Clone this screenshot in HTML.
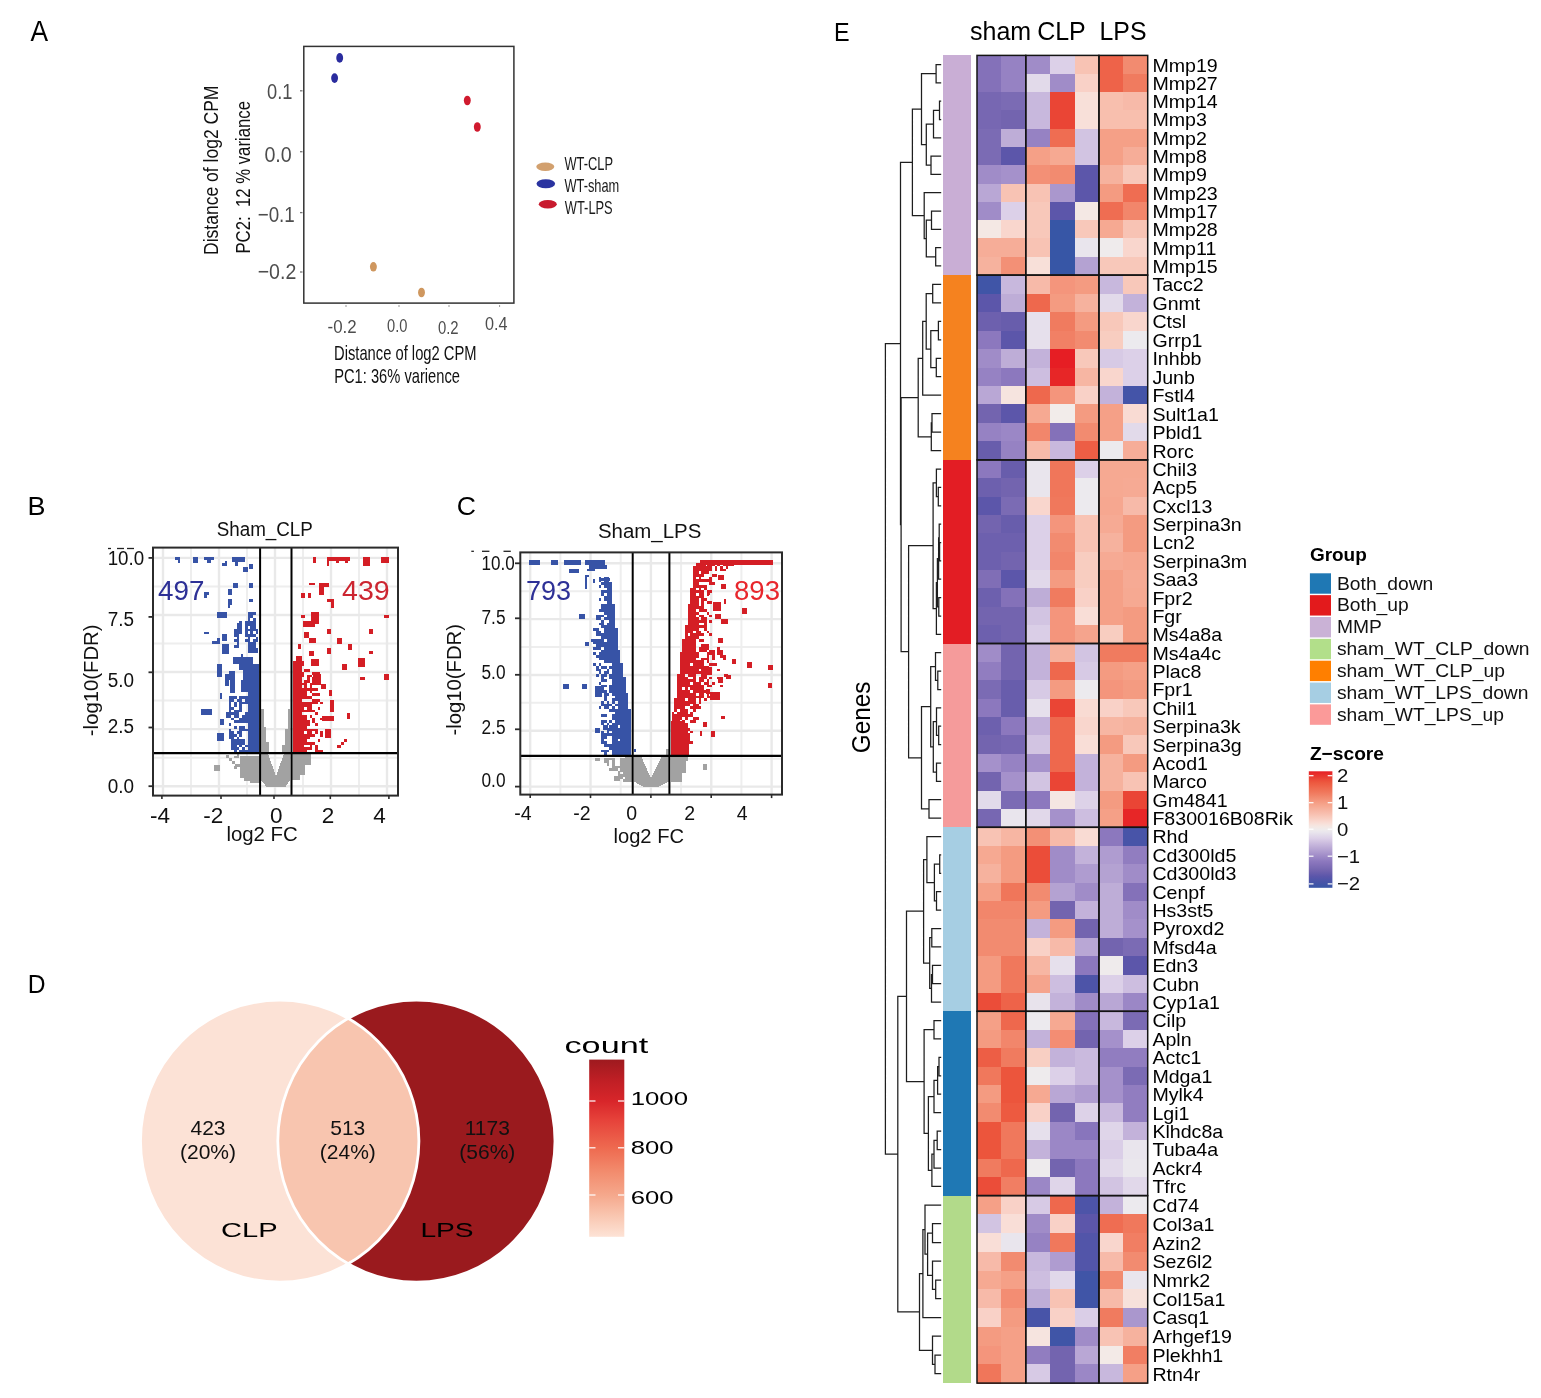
<!DOCTYPE html>
<html><head><meta charset="utf-8"><title>Figure</title>
<style>html,body{margin:0;padding:0;background:#fff;} svg{display:block;}</style>
</head><body>
<svg width="1541" height="1398" viewBox="0 0 1541 1398" font-family="'Liberation Sans', Arial, Helvetica, sans-serif"><text x="30.5" y="40.9" font-size="30.0" text-anchor="start" fill="#000" textLength="17.6" lengthAdjust="spacingAndGlyphs" >A</text>
<text x="27.6" y="515.4" font-size="25.2" text-anchor="start" fill="#000" textLength="18.0" lengthAdjust="spacingAndGlyphs" >B</text>
<text x="456.8" y="515.3" font-size="25.2" text-anchor="start" fill="#000" textLength="19.2" lengthAdjust="spacingAndGlyphs" >C</text>
<text x="27.7" y="992.7" font-size="26.0" text-anchor="start" fill="#000" textLength="17.8" lengthAdjust="spacingAndGlyphs" >D</text>
<text x="833.9" y="41.1" font-size="25.2" text-anchor="start" fill="#000" textLength="15.6" lengthAdjust="spacingAndGlyphs" >E</text>
<rect x="303.8" y="46.4" width="210.1" height="256.7" fill="none" stroke="#333" stroke-width="1.5"/>
<text x="267.1" y="99.1" font-size="22" text-anchor="start" fill="#4d4d4d" textLength="25.4" lengthAdjust="spacingAndGlyphs" >0.1</text>
<line x1="300.00" y1="90.80" x2="302.50" y2="90.80" stroke="#777" stroke-width="1.3" />
<text x="264.4" y="161.9" font-size="22" text-anchor="start" fill="#4d4d4d" textLength="27.4" lengthAdjust="spacingAndGlyphs" >0.0</text>
<line x1="300.00" y1="151.70" x2="302.50" y2="151.70" stroke="#777" stroke-width="1.3" />
<text x="257.7" y="221.6" font-size="22" text-anchor="start" fill="#4d4d4d" textLength="37.1" lengthAdjust="spacingAndGlyphs" >−0.1</text>
<line x1="300.00" y1="212.60" x2="302.50" y2="212.60" stroke="#777" stroke-width="1.3" />
<text x="257.7" y="278.8" font-size="22" text-anchor="start" fill="#4d4d4d" textLength="38.6" lengthAdjust="spacingAndGlyphs" >−0.2</text>
<line x1="300.00" y1="272.00" x2="302.50" y2="272.00" stroke="#777" stroke-width="1.3" />
<text x="327.6" y="333.0" font-size="18.5" text-anchor="start" fill="#4d4d4d" textLength="29.1" lengthAdjust="spacingAndGlyphs" >-0.2</text>
<text x="387.1" y="332.2" font-size="18.5" text-anchor="start" fill="#4d4d4d" textLength="20.4" lengthAdjust="spacingAndGlyphs" >0.0</text>
<text x="437.9" y="333.5" font-size="18.5" text-anchor="start" fill="#4d4d4d" textLength="20.7" lengthAdjust="spacingAndGlyphs" >0.2</text>
<text x="485.0" y="330.0" font-size="18.5" text-anchor="start" fill="#4d4d4d" textLength="22.5" lengthAdjust="spacingAndGlyphs" >0.4</text>
<line x1="346.00" y1="305.00" x2="346.00" y2="307.00" stroke="#999" stroke-width="1.0" />
<line x1="399.00" y1="305.00" x2="399.00" y2="307.00" stroke="#999" stroke-width="1.0" />
<line x1="449.00" y1="305.00" x2="449.00" y2="307.00" stroke="#999" stroke-width="1.0" />
<line x1="499.60" y1="305.00" x2="499.60" y2="307.00" stroke="#999" stroke-width="1.0" />
<text transform="translate(217.7,170.3) rotate(-90)" x="0" y="0" font-size="20" text-anchor="middle" fill="#111" textLength="169.4" lengthAdjust="spacingAndGlyphs">Distance of log2 CPM</text>
<text transform="translate(250.2,177.3) rotate(-90)" x="0" y="0" font-size="20" text-anchor="middle" fill="#111" textLength="152.6" lengthAdjust="spacingAndGlyphs">PC2:  12 % variance</text>
<text x="334.0" y="359.5" font-size="20.4" text-anchor="start" fill="#111" textLength="142.6" lengthAdjust="spacingAndGlyphs" >Distance of log2 CPM</text>
<text x="334.2" y="383.3" font-size="20.4" text-anchor="start" fill="#111" textLength="125.7" lengthAdjust="spacingAndGlyphs" >PC1: 36% varience</text>
<ellipse cx="339.7" cy="57.9" rx="3.45" ry="4.8" fill="#2a2c9e"/>
<ellipse cx="334.6" cy="78.1" rx="3.45" ry="4.8" fill="#2a2c9e"/>
<ellipse cx="467.3" cy="100.5" rx="3.45" ry="4.8" fill="#d01a2e"/>
<ellipse cx="477.3" cy="127.0" rx="3.45" ry="4.8" fill="#d01a2e"/>
<ellipse cx="373.4" cy="266.8" rx="3.45" ry="4.8" fill="#cf975f"/>
<ellipse cx="421.5" cy="292.5" rx="3.45" ry="4.8" fill="#cf975f"/>
<ellipse cx="545.3" cy="166.7" rx="9.0" ry="4.2" fill="#d2a06e"/>
<ellipse cx="545.8" cy="183.8" rx="9.3" ry="4.5" fill="#2a33a0"/>
<ellipse cx="547.8" cy="204.3" rx="9.0" ry="4.2" fill="#c81a2e"/>
<text x="564.4" y="169.6" font-size="18.5" text-anchor="start" fill="#1a1a1a" textLength="48.6" lengthAdjust="spacingAndGlyphs" >WT-CLP</text>
<text x="564.4" y="191.8" font-size="18.5" text-anchor="start" fill="#1a1a1a" textLength="54.9" lengthAdjust="spacingAndGlyphs" >WT-sham</text>
<text x="564.8" y="214.4" font-size="18.5" text-anchor="start" fill="#1a1a1a" textLength="47.9" lengthAdjust="spacingAndGlyphs" >WT-LPS</text>
<line x1="191.00" y1="547.60" x2="191.00" y2="795.60" stroke="#eeeeee" stroke-width="2.0" />
<line x1="247.00" y1="547.60" x2="247.00" y2="795.60" stroke="#eeeeee" stroke-width="2.0" />
<line x1="303.00" y1="547.60" x2="303.00" y2="795.60" stroke="#eeeeee" stroke-width="2.0" />
<line x1="359.00" y1="547.60" x2="359.00" y2="795.60" stroke="#eeeeee" stroke-width="2.0" />
<line x1="153.00" y1="757.66" x2="398.00" y2="757.66" stroke="#eeeeee" stroke-width="2.0" />
<line x1="153.00" y1="700.59" x2="398.00" y2="700.59" stroke="#eeeeee" stroke-width="2.0" />
<line x1="153.00" y1="643.51" x2="398.00" y2="643.51" stroke="#eeeeee" stroke-width="2.0" />
<line x1="153.00" y1="586.44" x2="398.00" y2="586.44" stroke="#eeeeee" stroke-width="2.0" />
<line x1="163.00" y1="547.60" x2="163.00" y2="795.60" stroke="#e9e9e9" stroke-width="2.4" />
<line x1="219.00" y1="547.60" x2="219.00" y2="795.60" stroke="#e9e9e9" stroke-width="2.4" />
<line x1="275.00" y1="547.60" x2="275.00" y2="795.60" stroke="#e9e9e9" stroke-width="2.4" />
<line x1="331.00" y1="547.60" x2="331.00" y2="795.60" stroke="#e9e9e9" stroke-width="2.4" />
<line x1="387.00" y1="547.60" x2="387.00" y2="795.60" stroke="#e9e9e9" stroke-width="2.4" />
<line x1="153.00" y1="786.20" x2="398.00" y2="786.20" stroke="#e9e9e9" stroke-width="2.4" />
<line x1="153.00" y1="729.12" x2="398.00" y2="729.12" stroke="#e9e9e9" stroke-width="2.4" />
<line x1="153.00" y1="672.05" x2="398.00" y2="672.05" stroke="#e9e9e9" stroke-width="2.4" />
<line x1="153.00" y1="614.98" x2="398.00" y2="614.98" stroke="#e9e9e9" stroke-width="2.4" />
<line x1="153.00" y1="557.90" x2="398.00" y2="557.90" stroke="#e9e9e9" stroke-width="2.4" />
<path d="M240.0,756.0H259.7V770.0H240.0ZM240.0,770.0H259.7V778.0H240.0ZM250.0,778.0H259.7V783.0H250.0ZM244.0,778.0H250.0V781.0H244.0ZM214.2,765.0H219.7V770.6H214.2ZM226.0,755.0H229.0V758.0H226.0ZM229.0,758.0H232.0V761.0H229.0ZM232.0,761.0H235.0V764.0H232.0ZM235.0,764.0H240.0V767.0H235.0ZM261.2,709.4H263.7V752.0H261.2ZM261.2,726.5H266.2V752.0H261.2ZM263.7,742.3H268.7V752.0H263.7ZM287.6,709.4H290.2V752.0H287.6ZM285.1,728.7H290.2V752.0H285.1ZM282.3,745.1H290.2V752.0H282.3ZM292.2,753.8H310.8V765.0H292.2ZM292.2,765.0H305.0V775.0H292.2ZM292.2,775.0H300.0V780.0H292.2ZM234.0,755.5H236.7V758.2H234.0ZM234.0,766.3H236.7V769.0H234.0ZM236.7,752.8H239.4V755.5H236.7ZM236.7,755.5H239.4V758.2H236.7ZM236.7,763.6H239.4V766.3H236.7Z" fill="#a2a2a2" shape-rendering="crispEdges"/>
<path d="M260.6,753.8L268.0,753.8L276.0,776.0L284.0,753.8L290.2,753.8L290.2,780.0L285.0,787.3L267.0,787.3L260.6,780.0Z" fill="#a2a2a2" shape-rendering="crispEdges"/>
<path d="M174.9,556.6H180.0V559.6H174.9ZM177.5,559.6H180.0V562.6H177.5ZM193.3,556.6H198.1V562.6H193.3ZM204.1,556.6H213.9V559.6H204.1ZM207.1,559.6H211.4V562.6H207.1ZM224.7,560.5H226.8V565.6H224.7ZM222.1,563.0H226.8V565.6H222.1ZM232.4,556.6H244.8V562.2H232.4ZM235.0,562.2H237.6V565.6H235.0ZM243.1,566.5H247.9V571.6H243.1ZM248.7,563.5H253.0V568.6H248.7ZM232.8,582.8H237.6V587.9H232.8ZM227.7,588.8H232.0V594.8H227.7ZM248.7,583.2H253.0V587.9H248.7ZM204.1,591.8H209.2V594.8H204.1ZM204.1,594.8H206.7V597.8H204.1ZM227.7,598.6H231.5V605.1H227.7ZM227.7,605.1H229.8V607.7H227.7ZM248.7,598.6H253.0V601.7H248.7ZM216.7,612.0H227.0V617.7H216.7ZM204.2,632.0H208.7V633.7H204.2ZM212.2,641.0H219.6V644.0H212.2ZM216.5,638.3H219.6V641.0H216.5ZM221.9,634.3H227.0V640.6H221.9ZM221.9,644.0H229.3V653.8H221.9ZM240.8,653.8H243.0V656.6H240.8ZM232.7,656.6H253.3V663.5H232.7ZM238.5,663.5H259.2V669.8H238.5ZM243.0,669.8H259.2V680.0H243.0ZM240.8,680.0H259.2V691.5H240.8ZM247.6,691.5H259.2V752.2H247.6ZM216.7,664.0H221.9V676.6H216.7ZM224.7,674.3H229.3V685.8H224.7ZM229.3,670.9H235.0V680.0H229.3ZM229.9,680.0H234.5V692.6H229.9ZM219.6,693.2H221.9V698.9H219.6ZM201.3,709.2H211.6V715.0H201.3ZM219.6,719.0H224.2V725.2H219.6ZM216.7,732.7H224.2V740.7H216.7ZM225.9,712.3H228.6V715.0H225.9ZM225.9,715.0H228.6V717.7H225.9ZM228.6,696.1H231.3V698.8H228.6ZM228.6,698.8H231.3V701.5H228.6ZM228.6,701.5H231.3V704.2H228.6ZM228.6,704.2H231.3V706.9H228.6ZM228.6,706.9H231.3V709.6H228.6ZM228.6,709.6H231.3V712.3H228.6ZM228.6,712.3H231.3V715.0H228.6ZM228.6,715.0H231.3V717.7H228.6ZM228.6,723.1H231.3V725.8H228.6ZM228.6,728.5H231.3V731.2H228.6ZM228.6,731.2H231.3V733.9H228.6ZM228.6,733.9H231.3V736.6H228.6ZM228.6,736.6H231.3V739.3H228.6ZM231.3,696.1H234.0V698.8H231.3ZM231.3,698.8H234.0V701.5H231.3ZM231.3,706.9H234.0V709.6H231.3ZM231.3,712.3H234.0V715.0H231.3ZM231.3,717.7H234.0V720.4H231.3ZM231.3,731.2H234.0V733.9H231.3ZM231.3,733.9H234.0V736.6H231.3ZM231.3,736.6H234.0V739.3H231.3ZM231.3,739.3H234.0V742.0H231.3ZM231.3,742.0H234.0V744.7H231.3ZM231.3,744.7H234.0V747.4H231.3ZM231.3,747.4H234.0V750.1H231.3ZM234.0,696.1H236.7V698.8H234.0ZM234.0,701.5H236.7V704.2H234.0ZM234.0,704.2H236.7V706.9H234.0ZM234.0,709.6H236.7V712.3H234.0ZM234.0,712.3H236.7V715.0H234.0ZM234.0,715.0H236.7V717.7H234.0ZM234.0,720.4H236.7V723.1H234.0ZM234.0,725.8H236.7V728.5H234.0ZM234.0,733.9H236.7V736.6H234.0ZM234.0,739.3H236.7V742.0H234.0ZM234.0,742.0H236.7V744.7H234.0ZM234.0,744.7H236.7V747.4H234.0ZM234.0,747.4H236.7V750.1H234.0ZM234.0,750.1H236.7V752.8H234.0ZM236.7,698.8H239.4V701.5H236.7ZM236.7,709.6H239.4V712.3H236.7ZM236.7,712.3H239.4V715.0H236.7ZM236.7,715.0H239.4V717.7H236.7ZM236.7,720.4H239.4V723.1H236.7ZM236.7,731.2H239.4V733.9H236.7ZM236.7,736.6H239.4V739.3H236.7ZM236.7,739.3H239.4V742.0H236.7ZM236.7,742.0H239.4V744.7H236.7ZM236.7,747.4H239.4V750.1H236.7ZM239.4,696.1H242.1V698.8H239.4ZM239.4,698.8H242.1V701.5H239.4ZM239.4,701.5H242.1V704.2H239.4ZM239.4,704.2H242.1V706.9H239.4ZM239.4,706.9H242.1V709.6H239.4ZM239.4,709.6H242.1V712.3H239.4ZM239.4,717.7H242.1V720.4H239.4ZM239.4,720.4H242.1V723.1H239.4ZM239.4,725.8H242.1V728.5H239.4ZM239.4,728.5H242.1V731.2H239.4ZM239.4,731.2H242.1V733.9H239.4ZM239.4,733.9H242.1V736.6H239.4ZM239.4,739.3H242.1V742.0H239.4ZM239.4,742.0H242.1V744.7H239.4ZM239.4,744.7H242.1V747.4H239.4ZM239.4,750.1H242.1V752.8H239.4ZM242.1,696.1H244.8V698.8H242.1ZM242.1,701.5H244.8V704.2H242.1ZM242.1,715.0H244.8V717.7H242.1ZM242.1,717.7H244.8V720.4H242.1ZM242.1,720.4H244.8V723.1H242.1ZM242.1,725.8H244.8V728.5H242.1ZM242.1,728.5H244.8V731.2H242.1ZM242.1,739.3H244.8V742.0H242.1ZM242.1,742.0H244.8V744.7H242.1ZM242.1,747.4H244.8V750.1H242.1ZM242.1,750.1H244.8V752.8H242.1ZM244.8,696.1H247.5V698.8H244.8ZM244.8,698.8H247.5V701.5H244.8ZM244.8,701.5H247.5V704.2H244.8ZM244.8,712.3H247.5V715.0H244.8ZM244.8,715.0H247.5V717.7H244.8ZM244.8,717.7H247.5V720.4H244.8ZM244.8,720.4H247.5V723.1H244.8ZM244.8,728.5H247.5V731.2H244.8ZM244.8,744.7H247.5V747.4H244.8ZM244.8,750.1H247.5V752.8H244.8ZM244.8,620.5H247.5V623.2H244.8ZM244.8,623.2H247.5V625.9H244.8ZM244.8,625.9H247.5V628.6H244.8ZM244.8,628.6H247.5V631.3H244.8ZM244.8,631.3H247.5V634.0H244.8ZM244.8,634.0H247.5V636.7H244.8ZM244.8,639.4H247.5V642.1H244.8ZM247.5,612.4H250.2V615.1H247.5ZM247.5,615.1H250.2V617.8H247.5ZM247.5,617.8H250.2V620.5H247.5ZM247.5,620.5H250.2V623.2H247.5ZM247.5,623.2H250.2V625.9H247.5ZM247.5,628.6H250.2V631.3H247.5ZM247.5,634.0H250.2V636.7H247.5ZM247.5,636.7H250.2V639.4H247.5ZM247.5,639.4H250.2V642.1H247.5ZM247.5,642.1H250.2V644.8H247.5ZM247.5,644.8H250.2V647.5H247.5ZM247.5,647.5H250.2V650.2H247.5ZM247.5,650.2H250.2V652.9H247.5ZM250.2,612.4H252.9V615.1H250.2ZM250.2,615.1H252.9V617.8H250.2ZM250.2,620.5H252.9V623.2H250.2ZM250.2,623.2H252.9V625.9H250.2ZM250.2,625.9H252.9V628.6H250.2ZM250.2,628.6H252.9V631.3H250.2ZM250.2,631.3H252.9V634.0H250.2ZM250.2,634.0H252.9V636.7H250.2ZM250.2,642.1H252.9V644.8H250.2ZM250.2,644.8H252.9V647.5H250.2ZM250.2,647.5H252.9V650.2H250.2ZM250.2,650.2H252.9V652.9H250.2ZM252.9,612.4H255.6V615.1H252.9ZM252.9,617.8H255.6V620.5H252.9ZM252.9,620.5H255.6V623.2H252.9ZM252.9,623.2H255.6V625.9H252.9ZM252.9,625.9H255.6V628.6H252.9ZM252.9,628.6H255.6V631.3H252.9ZM252.9,634.0H255.6V636.7H252.9ZM252.9,639.4H255.6V642.1H252.9ZM252.9,642.1H255.6V644.8H252.9ZM252.9,644.8H255.6V647.5H252.9ZM252.9,647.5H255.6V650.2H252.9ZM252.9,650.2H255.6V652.9H252.9ZM255.6,628.6H258.3V631.3H255.6ZM255.6,631.3H258.3V634.0H255.6ZM255.6,636.7H258.3V639.4H255.6ZM255.6,639.4H258.3V642.1H255.6ZM255.6,647.5H258.3V650.2H255.6ZM255.6,650.2H258.3V652.9H255.6ZM234.0,628.6H236.7V631.3H234.0ZM234.0,631.3H236.7V634.0H234.0ZM234.0,634.0H236.7V636.7H234.0ZM234.0,639.4H236.7V642.1H234.0ZM234.0,644.8H236.7V647.5H234.0ZM236.7,623.2H239.4V625.9H236.7ZM236.7,625.9H239.4V628.6H236.7ZM236.7,628.6H239.4V631.3H236.7ZM236.7,631.3H239.4V634.0H236.7ZM236.7,634.0H239.4V636.7H236.7ZM236.7,636.7H239.4V639.4H236.7ZM236.7,639.4H239.4V642.1H236.7ZM236.7,642.1H239.4V644.8H236.7ZM236.7,644.8H239.4V647.5H236.7ZM239.4,620.5H242.1V623.2H239.4ZM239.4,623.2H242.1V625.9H239.4ZM239.4,625.9H242.1V628.6H239.4ZM239.4,628.6H242.1V631.3H239.4ZM239.4,631.3H242.1V634.0H239.4Z" fill="#3753a6" shape-rendering="crispEdges"/>
<path d="M313.0,556.5H316.0V562.5H313.0ZM326.6,556.5H350.1V561.0H326.6ZM326.6,561.0H329.1V565.5H326.6ZM336.1,561.0H339.1V562.5H336.1ZM344.6,561.0H347.6V563.0H344.6ZM363.1,556.5H370.1V565.5H363.1ZM381.2,556.5H388.7V562.5H381.2ZM308.5,582.6H315.0V585.1H308.5ZM319.0,582.6H328.6V587.1H319.0ZM319.0,587.1H323.6V594.6H319.0ZM300.5,592.6H305.0V597.6H300.5ZM307.5,592.6H310.5V597.6H307.5ZM326.6,598.6H334.1V602.1H326.6ZM330.6,602.1H334.1V608.1H330.6ZM300.5,615.1H305.0V617.6H300.5ZM311.0,612.1H318.6V624.1H311.0ZM303.0,621.1H315.0V627.1H303.0ZM383.7,615.1H388.7V618.1H383.7ZM326.6,628.7H331.1V633.7H326.6ZM368.6,628.7H373.2V633.7H368.6ZM303.5,632.2H309.0V638.0H303.5ZM309.0,637.5H315.5V643.2H309.0ZM337.1,638.2H342.1V643.7H337.1ZM347.6,644.2H352.1V650.2H347.6ZM326.6,647.7H331.1V653.7H326.6ZM368.6,651.2H373.2V653.7H368.6ZM358.1,657.7H364.6V666.7H358.1ZM342.1,663.7H347.1V670.2H342.1ZM360.1,677.2H365.1V679.7H360.1ZM384.2,674.2H388.7V679.7H384.2ZM308.5,651.2H314.0V656.0H308.5ZM311.0,659.0H318.6V666.2H311.0ZM298.0,644.2H300.5V649.2H298.0ZM313.0,674.3H320.5V684.6H313.0ZM320.5,684.0H325.6V689.2H320.5ZM329.0,690.4H331.9V696.1H329.0ZM329.6,699.5H334.2V712.1H329.6ZM321.6,715.5H334.2V721.2H321.6ZM324.5,729.2H331.3V738.4H324.5ZM347.3,712.7H349.6V719.0H347.3ZM337.0,744.5H340.5V748.1H337.0ZM340.5,741.5H343.5V745.0H340.5ZM343.5,739.0H346.8V741.5H343.5ZM296.1,655.6H298.8V658.3H296.1ZM298.8,655.6H301.5V658.3H298.8ZM296.1,658.3H298.8V661.0H296.1ZM298.8,658.3H301.5V661.0H298.8ZM293.4,661.0H296.1V663.7H293.4ZM296.1,661.0H298.8V663.7H296.1ZM298.8,661.0H301.5V663.7H298.8ZM301.5,661.0H304.2V663.7H301.5ZM293.4,663.7H296.1V666.4H293.4ZM296.1,663.7H298.8V666.4H296.1ZM298.8,663.7H301.5V666.4H298.8ZM301.5,663.7H304.2V666.4H301.5ZM293.4,666.4H296.1V669.1H293.4ZM296.1,666.4H298.8V669.1H296.1ZM298.8,666.4H301.5V669.1H298.8ZM293.4,669.1H296.1V671.8H293.4ZM296.1,669.1H298.8V671.8H296.1ZM298.8,669.1H301.5V671.8H298.8ZM304.2,669.1H306.9V671.8H304.2ZM306.9,669.1H309.6V671.8H306.9ZM293.4,671.8H296.1V674.5H293.4ZM296.1,671.8H298.8V674.5H296.1ZM298.8,671.8H301.5V674.5H298.8ZM301.5,671.8H304.2V674.5H301.5ZM293.4,674.5H296.1V677.2H293.4ZM296.1,674.5H298.8V677.2H296.1ZM298.8,674.5H301.5V677.2H298.8ZM301.5,674.5H304.2V677.2H301.5ZM306.9,674.5H309.6V677.2H306.9ZM309.6,674.5H312.3V677.2H309.6ZM293.4,677.2H296.1V679.9H293.4ZM296.1,677.2H298.8V679.9H296.1ZM298.8,677.2H301.5V679.9H298.8ZM306.9,677.2H309.6V679.9H306.9ZM293.4,679.9H296.1V682.6H293.4ZM296.1,679.9H298.8V682.6H296.1ZM298.8,679.9H301.5V682.6H298.8ZM304.2,679.9H306.9V682.6H304.2ZM306.9,679.9H309.6V682.6H306.9ZM312.3,679.9H315.0V682.6H312.3ZM293.4,682.6H296.1V685.3H293.4ZM296.1,682.6H298.8V685.3H296.1ZM298.8,682.6H301.5V685.3H298.8ZM301.5,682.6H304.2V685.3H301.5ZM304.2,682.6H306.9V685.3H304.2ZM309.6,682.6H312.3V685.3H309.6ZM293.4,685.3H296.1V688.0H293.4ZM296.1,685.3H298.8V688.0H296.1ZM298.8,685.3H301.5V688.0H298.8ZM304.2,685.3H306.9V688.0H304.2ZM309.6,685.3H312.3V688.0H309.6ZM293.4,688.0H296.1V690.7H293.4ZM296.1,688.0H298.8V690.7H296.1ZM298.8,688.0H301.5V690.7H298.8ZM301.5,688.0H304.2V690.7H301.5ZM304.2,688.0H306.9V690.7H304.2ZM306.9,688.0H309.6V690.7H306.9ZM309.6,688.0H312.3V690.7H309.6ZM312.3,688.0H315.0V690.7H312.3ZM315.0,688.0H317.7V690.7H315.0ZM293.4,690.7H296.1V693.4H293.4ZM296.1,690.7H298.8V693.4H296.1ZM298.8,690.7H301.5V693.4H298.8ZM301.5,690.7H304.2V693.4H301.5ZM304.2,690.7H306.9V693.4H304.2ZM309.6,690.7H312.3V693.4H309.6ZM293.4,693.4H296.1V696.1H293.4ZM296.1,693.4H298.8V696.1H296.1ZM298.8,693.4H301.5V696.1H298.8ZM301.5,693.4H304.2V696.1H301.5ZM304.2,693.4H306.9V696.1H304.2ZM312.3,693.4H315.0V696.1H312.3ZM315.0,693.4H317.7V696.1H315.0ZM317.7,693.4H320.4V696.1H317.7ZM293.4,696.1H296.1V698.8H293.4ZM296.1,696.1H298.8V698.8H296.1ZM298.8,696.1H301.5V698.8H298.8ZM301.5,696.1H304.2V698.8H301.5ZM304.2,696.1H306.9V698.8H304.2ZM306.9,696.1H309.6V698.8H306.9ZM309.6,696.1H312.3V698.8H309.6ZM293.4,698.8H296.1V701.5H293.4ZM296.1,698.8H298.8V701.5H296.1ZM298.8,698.8H301.5V701.5H298.8ZM312.3,698.8H315.0V701.5H312.3ZM315.0,698.8H317.7V701.5H315.0ZM317.7,698.8H320.4V701.5H317.7ZM293.4,701.5H296.1V704.2H293.4ZM296.1,701.5H298.8V704.2H296.1ZM298.8,701.5H301.5V704.2H298.8ZM301.5,701.5H304.2V704.2H301.5ZM304.2,701.5H306.9V704.2H304.2ZM306.9,701.5H309.6V704.2H306.9ZM309.6,701.5H312.3V704.2H309.6ZM312.3,701.5H315.0V704.2H312.3ZM315.0,701.5H317.7V704.2H315.0ZM320.4,701.5H323.1V704.2H320.4ZM293.4,704.2H296.1V706.9H293.4ZM296.1,704.2H298.8V706.9H296.1ZM298.8,704.2H301.5V706.9H298.8ZM301.5,704.2H304.2V706.9H301.5ZM304.2,704.2H306.9V706.9H304.2ZM306.9,704.2H309.6V706.9H306.9ZM309.6,704.2H312.3V706.9H309.6ZM293.4,706.9H296.1V709.6H293.4ZM296.1,706.9H298.8V709.6H296.1ZM298.8,706.9H301.5V709.6H298.8ZM301.5,706.9H304.2V709.6H301.5ZM306.9,706.9H309.6V709.6H306.9ZM309.6,706.9H312.3V709.6H309.6ZM317.7,706.9H320.4V709.6H317.7ZM293.4,709.6H296.1V712.3H293.4ZM296.1,709.6H298.8V712.3H296.1ZM298.8,709.6H301.5V712.3H298.8ZM301.5,709.6H304.2V712.3H301.5ZM304.2,709.6H306.9V712.3H304.2ZM306.9,709.6H309.6V712.3H306.9ZM309.6,709.6H312.3V712.3H309.6ZM312.3,709.6H315.0V712.3H312.3ZM293.4,712.3H296.1V715.0H293.4ZM296.1,712.3H298.8V715.0H296.1ZM298.8,712.3H301.5V715.0H298.8ZM315.0,712.3H317.7V715.0H315.0ZM293.4,715.0H296.1V717.7H293.4ZM296.1,715.0H298.8V717.7H296.1ZM298.8,715.0H301.5V717.7H298.8ZM301.5,715.0H304.2V717.7H301.5ZM304.2,715.0H306.9V717.7H304.2ZM309.6,715.0H312.3V717.7H309.6ZM293.4,717.7H296.1V720.4H293.4ZM296.1,717.7H298.8V720.4H296.1ZM298.8,717.7H301.5V720.4H298.8ZM301.5,717.7H304.2V720.4H301.5ZM304.2,717.7H306.9V720.4H304.2ZM312.3,717.7H315.0V720.4H312.3ZM320.4,717.7H323.1V720.4H320.4ZM293.4,720.4H296.1V723.1H293.4ZM296.1,720.4H298.8V723.1H296.1ZM298.8,720.4H301.5V723.1H298.8ZM301.5,720.4H304.2V723.1H301.5ZM304.2,720.4H306.9V723.1H304.2ZM306.9,720.4H309.6V723.1H306.9ZM312.3,720.4H315.0V723.1H312.3ZM293.4,723.1H296.1V725.8H293.4ZM296.1,723.1H298.8V725.8H296.1ZM298.8,723.1H301.5V725.8H298.8ZM301.5,723.1H304.2V725.8H301.5ZM304.2,723.1H306.9V725.8H304.2ZM306.9,723.1H309.6V725.8H306.9ZM315.0,723.1H317.7V725.8H315.0ZM293.4,725.8H296.1V728.5H293.4ZM296.1,725.8H298.8V728.5H296.1ZM298.8,725.8H301.5V728.5H298.8ZM301.5,725.8H304.2V728.5H301.5ZM304.2,725.8H306.9V728.5H304.2ZM293.4,728.5H296.1V731.2H293.4ZM296.1,728.5H298.8V731.2H296.1ZM298.8,728.5H301.5V731.2H298.8ZM301.5,728.5H304.2V731.2H301.5ZM304.2,728.5H306.9V731.2H304.2ZM306.9,728.5H309.6V731.2H306.9ZM309.6,728.5H312.3V731.2H309.6ZM312.3,728.5H315.0V731.2H312.3ZM315.0,728.5H317.7V731.2H315.0ZM293.4,731.2H296.1V733.9H293.4ZM296.1,731.2H298.8V733.9H296.1ZM298.8,731.2H301.5V733.9H298.8ZM301.5,731.2H304.2V733.9H301.5ZM306.9,731.2H309.6V733.9H306.9ZM309.6,731.2H312.3V733.9H309.6ZM315.0,731.2H317.7V733.9H315.0ZM320.4,731.2H323.1V733.9H320.4ZM293.4,733.9H296.1V736.6H293.4ZM296.1,733.9H298.8V736.6H296.1ZM298.8,733.9H301.5V736.6H298.8ZM301.5,733.9H304.2V736.6H301.5ZM304.2,733.9H306.9V736.6H304.2ZM306.9,733.9H309.6V736.6H306.9ZM309.6,733.9H312.3V736.6H309.6ZM312.3,733.9H315.0V736.6H312.3ZM320.4,733.9H323.1V736.6H320.4ZM293.4,736.6H296.1V739.3H293.4ZM296.1,736.6H298.8V739.3H296.1ZM298.8,736.6H301.5V739.3H298.8ZM301.5,736.6H304.2V739.3H301.5ZM304.2,736.6H306.9V739.3H304.2ZM306.9,736.6H309.6V739.3H306.9ZM293.4,739.3H296.1V742.0H293.4ZM296.1,739.3H298.8V742.0H296.1ZM298.8,739.3H301.5V742.0H298.8ZM301.5,739.3H304.2V742.0H301.5ZM304.2,739.3H306.9V742.0H304.2ZM317.7,739.3H320.4V742.0H317.7ZM293.4,742.0H296.1V744.7H293.4ZM296.1,742.0H298.8V744.7H296.1ZM298.8,742.0H301.5V744.7H298.8ZM301.5,742.0H304.2V744.7H301.5ZM304.2,742.0H306.9V744.7H304.2ZM306.9,742.0H309.6V744.7H306.9ZM309.6,742.0H312.3V744.7H309.6ZM312.3,742.0H315.0V744.7H312.3ZM293.4,744.7H296.1V747.4H293.4ZM296.1,744.7H298.8V747.4H296.1ZM298.8,744.7H301.5V747.4H298.8ZM301.5,744.7H304.2V747.4H301.5ZM309.6,744.7H312.3V747.4H309.6ZM315.0,744.7H317.7V747.4H315.0ZM293.4,747.4H296.1V750.1H293.4ZM296.1,747.4H298.8V750.1H296.1ZM298.8,747.4H301.5V750.1H298.8ZM301.5,747.4H304.2V750.1H301.5ZM304.2,747.4H306.9V750.1H304.2ZM306.9,747.4H309.6V750.1H306.9ZM309.6,747.4H312.3V750.1H309.6ZM315.0,747.4H317.7V750.1H315.0ZM293.4,750.1H296.1V752.8H293.4ZM296.1,750.1H298.8V752.8H296.1ZM298.8,750.1H301.5V752.8H298.8ZM301.5,750.1H304.2V752.8H301.5ZM304.2,750.1H306.9V752.8H304.2ZM315.0,750.1H317.7V752.8H315.0ZM317.7,750.1H320.4V752.8H317.7ZM320.4,750.1H323.1V752.8H320.4ZM312.3,671.8H315.0V674.5H312.3ZM312.3,677.2H315.0V679.9H312.3ZM312.3,682.6H315.0V685.3H312.3ZM315.0,671.8H317.7V674.5H315.0ZM315.0,677.2H317.7V679.9H315.0ZM315.0,679.9H317.7V682.6H315.0ZM315.0,682.6H317.7V685.3H315.0ZM317.7,671.8H320.4V674.5H317.7ZM317.7,674.5H320.4V677.2H317.7ZM317.7,677.2H320.4V679.9H317.7ZM317.7,682.6H320.4V685.3H317.7Z" fill="#d41e25" shape-rendering="crispEdges"/>
<line x1="260.10" y1="547.60" x2="260.10" y2="795.60" stroke="#000" stroke-width="2.0" />
<line x1="291.50" y1="547.60" x2="291.50" y2="795.60" stroke="#000" stroke-width="2.0" />
<line x1="153.00" y1="753.20" x2="398.00" y2="753.20" stroke="#000" stroke-width="2.2" />
<rect x="153.0" y="547.6" width="245.0" height="248.0" fill="none" stroke="#2b2b2b" stroke-width="2"/>
<line x1="148.50" y1="557.90" x2="153.00" y2="557.90" stroke="#2b2b2b" stroke-width="1.8" />
<line x1="148.50" y1="616.90" x2="153.00" y2="616.90" stroke="#2b2b2b" stroke-width="1.8" />
<line x1="148.50" y1="672.30" x2="153.00" y2="672.30" stroke="#2b2b2b" stroke-width="1.8" />
<line x1="148.50" y1="727.50" x2="153.00" y2="727.50" stroke="#2b2b2b" stroke-width="1.8" />
<line x1="148.50" y1="786.20" x2="153.00" y2="786.20" stroke="#2b2b2b" stroke-width="1.8" />
<line x1="161.90" y1="795.60" x2="161.90" y2="799.10" stroke="#2b2b2b" stroke-width="1.6" />
<line x1="221.00" y1="795.60" x2="221.00" y2="799.10" stroke="#2b2b2b" stroke-width="1.6" />
<line x1="274.00" y1="795.60" x2="274.00" y2="799.10" stroke="#2b2b2b" stroke-width="1.6" />
<line x1="330.30" y1="795.60" x2="330.30" y2="799.10" stroke="#2b2b2b" stroke-width="1.6" />
<line x1="388.90" y1="795.60" x2="388.90" y2="799.10" stroke="#2b2b2b" stroke-width="1.6" />
<text x="107.7" y="565.0" font-size="20" text-anchor="start" fill="#111" textLength="36.5" lengthAdjust="spacingAndGlyphs" >10.0</text>
<text x="107.7" y="625.7" font-size="20" text-anchor="start" fill="#111" textLength="26.3" lengthAdjust="spacingAndGlyphs" >7.5</text>
<text x="107.7" y="686.9" font-size="20" text-anchor="start" fill="#111" textLength="26.3" lengthAdjust="spacingAndGlyphs" >5.0</text>
<text x="107.7" y="732.8" font-size="20" text-anchor="start" fill="#111" textLength="26.3" lengthAdjust="spacingAndGlyphs" >2.5</text>
<text x="107.7" y="792.9" font-size="20" text-anchor="start" fill="#111" textLength="26.3" lengthAdjust="spacingAndGlyphs" >0.0</text>
<text x="160.1" y="822.8" font-size="22.5" text-anchor="middle" fill="#111" >-4</text>
<text x="213.2" y="822.8" font-size="22.5" text-anchor="middle" fill="#111" >-2</text>
<text x="276.2" y="822.8" font-size="22.5" text-anchor="middle" fill="#111" >0</text>
<text x="327.9" y="822.8" font-size="22.5" text-anchor="middle" fill="#111" >2</text>
<text x="379.6" y="822.8" font-size="22.5" text-anchor="middle" fill="#111" >4</text>
<text x="226.4" y="841.4" font-size="20.5" text-anchor="start" fill="#111" textLength="71.4" lengthAdjust="spacingAndGlyphs" >log2 FC</text>
<text transform="translate(98.0,680.3) rotate(-90)" x="0" y="0" font-size="20" text-anchor="middle" fill="#111" textLength="111.7" lengthAdjust="spacingAndGlyphs">-log10(FDR)</text>
<text x="216.7" y="535.9" font-size="20" text-anchor="start" fill="#111" textLength="96.2" lengthAdjust="spacingAndGlyphs" >Sham_CLP</text>
<text x="158.0" y="600.0" font-size="27" text-anchor="start" fill="#2d3096" textLength="46.4" lengthAdjust="spacingAndGlyphs" >497</text>
<text x="342.0" y="600.0" font-size="27" text-anchor="start" fill="#cc2530" textLength="47.7" lengthAdjust="spacingAndGlyphs" >439</text>
<line x1="108.00" y1="548.50" x2="111.00" y2="548.50" stroke="#222" stroke-width="1.3" />
<line x1="117.00" y1="548.50" x2="124.00" y2="548.50" stroke="#222" stroke-width="1.3" />
<line x1="127.00" y1="548.50" x2="134.00" y2="548.50" stroke="#222" stroke-width="1.3" />
<line x1="560.36" y1="552.40" x2="560.36" y2="794.60" stroke="#eeeeee" stroke-width="2.0" />
<line x1="620.72" y1="552.40" x2="620.72" y2="794.60" stroke="#eeeeee" stroke-width="2.0" />
<line x1="681.08" y1="552.40" x2="681.08" y2="794.60" stroke="#eeeeee" stroke-width="2.0" />
<line x1="741.44" y1="552.40" x2="741.44" y2="794.60" stroke="#eeeeee" stroke-width="2.0" />
<line x1="520.30" y1="758.69" x2="782.00" y2="758.69" stroke="#eeeeee" stroke-width="2.0" />
<line x1="520.30" y1="702.86" x2="782.00" y2="702.86" stroke="#eeeeee" stroke-width="2.0" />
<line x1="520.30" y1="647.04" x2="782.00" y2="647.04" stroke="#eeeeee" stroke-width="2.0" />
<line x1="520.30" y1="591.21" x2="782.00" y2="591.21" stroke="#eeeeee" stroke-width="2.0" />
<line x1="530.18" y1="552.40" x2="530.18" y2="794.60" stroke="#e9e9e9" stroke-width="2.4" />
<line x1="590.54" y1="552.40" x2="590.54" y2="794.60" stroke="#e9e9e9" stroke-width="2.4" />
<line x1="650.90" y1="552.40" x2="650.90" y2="794.60" stroke="#e9e9e9" stroke-width="2.4" />
<line x1="711.26" y1="552.40" x2="711.26" y2="794.60" stroke="#e9e9e9" stroke-width="2.4" />
<line x1="771.62" y1="552.40" x2="771.62" y2="794.60" stroke="#e9e9e9" stroke-width="2.4" />
<line x1="520.30" y1="786.60" x2="782.00" y2="786.60" stroke="#e9e9e9" stroke-width="2.4" />
<line x1="520.30" y1="730.77" x2="782.00" y2="730.77" stroke="#e9e9e9" stroke-width="2.4" />
<line x1="520.30" y1="674.95" x2="782.00" y2="674.95" stroke="#e9e9e9" stroke-width="2.4" />
<line x1="520.30" y1="619.12" x2="782.00" y2="619.12" stroke="#e9e9e9" stroke-width="2.4" />
<line x1="520.30" y1="563.30" x2="782.00" y2="563.30" stroke="#e9e9e9" stroke-width="2.4" />
<path d="M595.2,757.9H599.8V760.7H595.2ZM620.0,757.9H631.4V772.3H620.0ZM613.8,776.0H620.3V781.2H613.8ZM625.0,757.2H631.7V781.6H625.0ZM665.5,748.9H668.6V755.0H665.5ZM670.7,757.2H688.3V761.4H670.7ZM670.7,761.4H686.3V772.8H670.7ZM670.7,772.8H682.1V781.6H670.7ZM702.9,764.0H707.0V769.7H702.9ZM617.5,771.1H620.2V773.8H617.5ZM617.5,773.8H620.2V776.5H617.5ZM617.5,776.5H620.2V779.2H617.5ZM620.2,773.8H622.9V776.5H620.2ZM620.2,776.5H622.9V779.2H620.2ZM622.9,771.1H625.6V773.8H622.9ZM622.9,773.8H625.6V776.5H622.9ZM622.9,779.2H625.6V781.9H622.9ZM625.6,773.8H628.3V776.5H625.6ZM625.6,779.2H628.3V781.9H625.6ZM628.3,776.5H631.0V779.2H628.3ZM604.0,757.6H606.7V760.3H604.0ZM604.0,760.3H606.7V763.0H604.0ZM606.7,757.6H609.4V760.3H606.7ZM606.7,760.3H609.4V763.0H606.7ZM606.7,763.0H609.4V765.7H606.7ZM609.4,757.6H612.1V760.3H609.4ZM609.4,768.4H612.1V771.1H609.4ZM612.1,757.6H614.8V760.3H612.1ZM612.1,760.3H614.8V763.0H612.1ZM612.1,763.0H614.8V765.7H612.1ZM612.1,765.7H614.8V768.4H612.1ZM612.1,768.4H614.8V771.1H612.1ZM614.8,765.7H617.5V768.4H614.8ZM614.8,768.4H617.5V771.1H614.8ZM617.5,765.7H620.2V768.4H617.5Z" fill="#a2a2a2" shape-rendering="crispEdges"/>
<path d="M633.8,757.2L641.5,757.2L651.0,778.5L661.5,757.2L668.6,757.2L668.6,781.6L657.2,787.3L644.7,787.3L633.8,781.6Z" fill="#a2a2a2" shape-rendering="crispEdges"/>
<path d="M529.2,560.2H539.9V564.9H529.2ZM551.0,560.2H558.0V564.9H551.0ZM563.6,560.2H581.2V564.9H563.6ZM584.5,560.2H605.0V564.9H584.5ZM588.7,564.9H607.3V568.6H588.7ZM568.7,568.6H578.9V573.2H568.7ZM587.3,568.6H595.2V570.9H587.3ZM584.5,575.1H586.5V589.1H584.5ZM584.5,575.1H588.7V577.0H584.5ZM592.9,578.8H594.7V582.5H592.9ZM599.4,577.9H610.1V581.0H599.4ZM579.4,613.7H584.5V619.3H579.4ZM584.5,641.6H588.7V645.8H584.5ZM563.1,683.5H568.7V688.6H563.1ZM581.7,683.5H586.8V688.6H581.7ZM595.2,686.3H602.2V697.4H595.2ZM595.2,728.1H599.8V733.2H595.2ZM602.6,724.9H607.7V729.5H602.6ZM633.8,749.0H636.4V751.8H633.8ZM598.6,576.7H601.3V579.4H598.6ZM604.0,576.7H606.7V579.4H604.0ZM606.7,576.7H609.4V579.4H606.7ZM598.6,579.4H601.3V582.1H598.6ZM604.0,579.4H606.7V582.1H604.0ZM606.7,579.4H609.4V582.1H606.7ZM601.3,582.1H604.0V584.8H601.3ZM604.0,582.1H606.7V584.8H604.0ZM606.7,582.1H609.4V584.8H606.7ZM609.4,582.1H612.1V584.8H609.4ZM598.6,584.8H601.3V587.5H598.6ZM604.0,584.8H606.7V587.5H604.0ZM606.7,584.8H609.4V587.5H606.7ZM609.4,584.8H612.1V587.5H609.4ZM606.7,587.5H609.4V590.2H606.7ZM609.4,587.5H612.1V590.2H609.4ZM601.3,590.2H604.0V592.9H601.3ZM604.0,590.2H606.7V592.9H604.0ZM606.7,590.2H609.4V592.9H606.7ZM609.4,590.2H612.1V592.9H609.4ZM601.3,592.9H604.0V595.6H601.3ZM606.7,592.9H609.4V595.6H606.7ZM609.4,592.9H612.1V595.6H609.4ZM604.0,595.6H606.7V598.3H604.0ZM606.7,595.6H609.4V598.3H606.7ZM609.4,595.6H612.1V598.3H609.4ZM598.6,598.3H601.3V601.0H598.6ZM604.0,598.3H606.7V601.0H604.0ZM606.7,598.3H609.4V601.0H606.7ZM609.4,598.3H612.1V601.0H609.4ZM606.7,601.0H609.4V603.7H606.7ZM609.4,601.0H612.1V603.7H609.4ZM601.3,603.7H604.0V606.4H601.3ZM604.0,603.7H606.7V606.4H604.0ZM606.7,603.7H609.4V606.4H606.7ZM609.4,603.7H612.1V606.4H609.4ZM612.1,603.7H614.8V606.4H612.1ZM601.3,606.4H604.0V609.1H601.3ZM604.0,606.4H606.7V609.1H604.0ZM606.7,606.4H609.4V609.1H606.7ZM609.4,606.4H612.1V609.1H609.4ZM612.1,606.4H614.8V609.1H612.1ZM598.6,609.1H601.3V611.8H598.6ZM601.3,609.1H604.0V611.8H601.3ZM604.0,609.1H606.7V611.8H604.0ZM606.7,609.1H609.4V611.8H606.7ZM609.4,609.1H612.1V611.8H609.4ZM612.1,609.1H614.8V611.8H612.1ZM604.0,611.8H606.7V614.5H604.0ZM606.7,611.8H609.4V614.5H606.7ZM609.4,611.8H612.1V614.5H609.4ZM612.1,611.8H614.8V614.5H612.1ZM595.9,614.5H598.6V617.2H595.9ZM598.6,614.5H601.3V617.2H598.6ZM601.3,614.5H604.0V617.2H601.3ZM606.7,614.5H609.4V617.2H606.7ZM609.4,614.5H612.1V617.2H609.4ZM612.1,614.5H614.8V617.2H612.1ZM595.9,617.2H598.6V619.9H595.9ZM598.6,617.2H601.3V619.9H598.6ZM604.0,617.2H606.7V619.9H604.0ZM606.7,617.2H609.4V619.9H606.7ZM609.4,617.2H612.1V619.9H609.4ZM612.1,617.2H614.8V619.9H612.1ZM601.3,619.9H604.0V622.6H601.3ZM609.4,619.9H612.1V622.6H609.4ZM612.1,619.9H614.8V622.6H612.1ZM598.6,622.6H601.3V625.3H598.6ZM601.3,622.6H604.0V625.3H601.3ZM606.7,622.6H609.4V625.3H606.7ZM609.4,622.6H612.1V625.3H609.4ZM612.1,622.6H614.8V625.3H612.1ZM601.3,625.3H604.0V628.0H601.3ZM604.0,625.3H606.7V628.0H604.0ZM606.7,625.3H609.4V628.0H606.7ZM609.4,625.3H612.1V628.0H609.4ZM612.1,625.3H614.8V628.0H612.1ZM593.2,628.0H595.9V630.7H593.2ZM595.9,628.0H598.6V630.7H595.9ZM604.0,628.0H606.7V630.7H604.0ZM606.7,628.0H609.4V630.7H606.7ZM609.4,628.0H612.1V630.7H609.4ZM612.1,628.0H614.8V630.7H612.1ZM614.8,628.0H617.5V630.7H614.8ZM595.9,630.7H598.6V633.4H595.9ZM598.6,630.7H601.3V633.4H598.6ZM604.0,630.7H606.7V633.4H604.0ZM606.7,630.7H609.4V633.4H606.7ZM609.4,630.7H612.1V633.4H609.4ZM612.1,630.7H614.8V633.4H612.1ZM614.8,630.7H617.5V633.4H614.8ZM595.9,633.4H598.6V636.1H595.9ZM598.6,633.4H601.3V636.1H598.6ZM601.3,633.4H604.0V636.1H601.3ZM604.0,633.4H606.7V636.1H604.0ZM606.7,633.4H609.4V636.1H606.7ZM609.4,633.4H612.1V636.1H609.4ZM612.1,633.4H614.8V636.1H612.1ZM614.8,633.4H617.5V636.1H614.8ZM601.3,636.1H604.0V638.8H601.3ZM604.0,636.1H606.7V638.8H604.0ZM606.7,636.1H609.4V638.8H606.7ZM609.4,636.1H612.1V638.8H609.4ZM612.1,636.1H614.8V638.8H612.1ZM614.8,636.1H617.5V638.8H614.8ZM590.5,638.8H593.2V641.5H590.5ZM593.2,638.8H595.9V641.5H593.2ZM595.9,638.8H598.6V641.5H595.9ZM598.6,638.8H601.3V641.5H598.6ZM601.3,638.8H604.0V641.5H601.3ZM606.7,638.8H609.4V641.5H606.7ZM609.4,638.8H612.1V641.5H609.4ZM612.1,638.8H614.8V641.5H612.1ZM614.8,638.8H617.5V641.5H614.8ZM593.2,641.5H595.9V644.2H593.2ZM595.9,641.5H598.6V644.2H595.9ZM598.6,641.5H601.3V644.2H598.6ZM601.3,641.5H604.0V644.2H601.3ZM604.0,641.5H606.7V644.2H604.0ZM606.7,641.5H609.4V644.2H606.7ZM609.4,641.5H612.1V644.2H609.4ZM612.1,641.5H614.8V644.2H612.1ZM614.8,641.5H617.5V644.2H614.8ZM595.9,644.2H598.6V646.9H595.9ZM598.6,644.2H601.3V646.9H598.6ZM601.3,644.2H604.0V646.9H601.3ZM604.0,644.2H606.7V646.9H604.0ZM606.7,644.2H609.4V646.9H606.7ZM609.4,644.2H612.1V646.9H609.4ZM612.1,644.2H614.8V646.9H612.1ZM614.8,644.2H617.5V646.9H614.8ZM593.2,646.9H595.9V649.6H593.2ZM595.9,646.9H598.6V649.6H595.9ZM598.6,646.9H601.3V649.6H598.6ZM604.0,646.9H606.7V649.6H604.0ZM606.7,646.9H609.4V649.6H606.7ZM609.4,646.9H612.1V649.6H609.4ZM612.1,646.9H614.8V649.6H612.1ZM614.8,646.9H617.5V649.6H614.8ZM601.3,649.6H604.0V652.3H601.3ZM604.0,649.6H606.7V652.3H604.0ZM606.7,649.6H609.4V652.3H606.7ZM609.4,649.6H612.1V652.3H609.4ZM612.1,649.6H614.8V652.3H612.1ZM614.8,649.6H617.5V652.3H614.8ZM617.5,649.6H620.2V652.3H617.5ZM593.2,652.3H595.9V655.0H593.2ZM598.6,652.3H601.3V655.0H598.6ZM601.3,652.3H604.0V655.0H601.3ZM604.0,652.3H606.7V655.0H604.0ZM606.7,652.3H609.4V655.0H606.7ZM609.4,652.3H612.1V655.0H609.4ZM612.1,652.3H614.8V655.0H612.1ZM614.8,652.3H617.5V655.0H614.8ZM617.5,652.3H620.2V655.0H617.5ZM595.9,655.0H598.6V657.7H595.9ZM598.6,655.0H601.3V657.7H598.6ZM601.3,655.0H604.0V657.7H601.3ZM604.0,655.0H606.7V657.7H604.0ZM606.7,655.0H609.4V657.7H606.7ZM609.4,655.0H612.1V657.7H609.4ZM612.1,655.0H614.8V657.7H612.1ZM614.8,655.0H617.5V657.7H614.8ZM617.5,655.0H620.2V657.7H617.5ZM598.6,657.7H601.3V660.4H598.6ZM601.3,657.7H604.0V660.4H601.3ZM604.0,657.7H606.7V660.4H604.0ZM606.7,657.7H609.4V660.4H606.7ZM609.4,657.7H612.1V660.4H609.4ZM612.1,657.7H614.8V660.4H612.1ZM614.8,657.7H617.5V660.4H614.8ZM617.5,657.7H620.2V660.4H617.5ZM604.0,660.4H606.7V663.1H604.0ZM606.7,660.4H609.4V663.1H606.7ZM609.4,660.4H612.1V663.1H609.4ZM612.1,660.4H614.8V663.1H612.1ZM614.8,660.4H617.5V663.1H614.8ZM617.5,660.4H620.2V663.1H617.5ZM593.2,663.1H595.9V665.8H593.2ZM598.6,663.1H601.3V665.8H598.6ZM612.1,663.1H614.8V665.8H612.1ZM614.8,663.1H617.5V665.8H614.8ZM617.5,663.1H620.2V665.8H617.5ZM620.2,663.1H622.9V665.8H620.2ZM595.9,665.8H598.6V668.5H595.9ZM601.3,665.8H604.0V668.5H601.3ZM604.0,665.8H606.7V668.5H604.0ZM609.4,665.8H612.1V668.5H609.4ZM612.1,665.8H614.8V668.5H612.1ZM614.8,665.8H617.5V668.5H614.8ZM617.5,665.8H620.2V668.5H617.5ZM620.2,665.8H622.9V668.5H620.2ZM595.9,668.5H598.6V671.2H595.9ZM598.6,668.5H601.3V671.2H598.6ZM606.7,668.5H609.4V671.2H606.7ZM612.1,668.5H614.8V671.2H612.1ZM614.8,668.5H617.5V671.2H614.8ZM617.5,668.5H620.2V671.2H617.5ZM620.2,668.5H622.9V671.2H620.2ZM598.6,671.2H601.3V673.9H598.6ZM604.0,671.2H606.7V673.9H604.0ZM606.7,671.2H609.4V673.9H606.7ZM612.1,671.2H614.8V673.9H612.1ZM614.8,671.2H617.5V673.9H614.8ZM617.5,671.2H620.2V673.9H617.5ZM620.2,671.2H622.9V673.9H620.2ZM595.9,673.9H598.6V676.6H595.9ZM601.3,673.9H604.0V676.6H601.3ZM604.0,673.9H606.7V676.6H604.0ZM609.4,673.9H612.1V676.6H609.4ZM612.1,673.9H614.8V676.6H612.1ZM614.8,673.9H617.5V676.6H614.8ZM617.5,673.9H620.2V676.6H617.5ZM620.2,673.9H622.9V676.6H620.2ZM601.3,676.6H604.0V679.3H601.3ZM609.4,676.6H612.1V679.3H609.4ZM612.1,676.6H614.8V679.3H612.1ZM614.8,676.6H617.5V679.3H614.8ZM617.5,676.6H620.2V679.3H617.5ZM620.2,676.6H622.9V679.3H620.2ZM622.9,676.6H625.6V679.3H622.9ZM601.3,679.3H604.0V682.0H601.3ZM604.0,679.3H606.7V682.0H604.0ZM612.1,679.3H614.8V682.0H612.1ZM614.8,679.3H617.5V682.0H614.8ZM617.5,679.3H620.2V682.0H617.5ZM620.2,679.3H622.9V682.0H620.2ZM622.9,679.3H625.6V682.0H622.9ZM598.6,682.0H601.3V684.7H598.6ZM612.1,682.0H614.8V684.7H612.1ZM614.8,682.0H617.5V684.7H614.8ZM617.5,682.0H620.2V684.7H617.5ZM620.2,682.0H622.9V684.7H620.2ZM622.9,682.0H625.6V684.7H622.9ZM601.3,684.7H604.0V687.4H601.3ZM604.0,684.7H606.7V687.4H604.0ZM609.4,684.7H612.1V687.4H609.4ZM612.1,684.7H614.8V687.4H612.1ZM614.8,684.7H617.5V687.4H614.8ZM617.5,684.7H620.2V687.4H617.5ZM620.2,684.7H622.9V687.4H620.2ZM622.9,684.7H625.6V687.4H622.9ZM601.3,687.4H604.0V690.1H601.3ZM609.4,687.4H612.1V690.1H609.4ZM612.1,687.4H614.8V690.1H612.1ZM614.8,687.4H617.5V690.1H614.8ZM617.5,687.4H620.2V690.1H617.5ZM620.2,687.4H622.9V690.1H620.2ZM622.9,687.4H625.6V690.1H622.9ZM598.6,690.1H601.3V692.8H598.6ZM601.3,690.1H604.0V692.8H601.3ZM604.0,690.1H606.7V692.8H604.0ZM609.4,690.1H612.1V692.8H609.4ZM612.1,690.1H614.8V692.8H612.1ZM614.8,690.1H617.5V692.8H614.8ZM617.5,690.1H620.2V692.8H617.5ZM620.2,690.1H622.9V692.8H620.2ZM622.9,690.1H625.6V692.8H622.9ZM604.0,692.8H606.7V695.5H604.0ZM606.7,692.8H609.4V695.5H606.7ZM612.1,692.8H614.8V695.5H612.1ZM614.8,692.8H617.5V695.5H614.8ZM617.5,692.8H620.2V695.5H617.5ZM620.2,692.8H622.9V695.5H620.2ZM622.9,692.8H625.6V695.5H622.9ZM625.6,692.8H628.3V695.5H625.6ZM604.0,695.5H606.7V698.2H604.0ZM614.8,695.5H617.5V698.2H614.8ZM617.5,695.5H620.2V698.2H617.5ZM620.2,695.5H622.9V698.2H620.2ZM622.9,695.5H625.6V698.2H622.9ZM625.6,695.5H628.3V698.2H625.6ZM604.0,698.2H606.7V700.9H604.0ZM612.1,698.2H614.8V700.9H612.1ZM614.8,698.2H617.5V700.9H614.8ZM617.5,698.2H620.2V700.9H617.5ZM620.2,698.2H622.9V700.9H620.2ZM622.9,698.2H625.6V700.9H622.9ZM625.6,698.2H628.3V700.9H625.6ZM601.3,700.9H604.0V703.6H601.3ZM606.7,700.9H609.4V703.6H606.7ZM612.1,700.9H614.8V703.6H612.1ZM617.5,700.9H620.2V703.6H617.5ZM620.2,700.9H622.9V703.6H620.2ZM622.9,700.9H625.6V703.6H622.9ZM625.6,700.9H628.3V703.6H625.6ZM601.3,703.6H604.0V706.3H601.3ZM604.0,703.6H606.7V706.3H604.0ZM606.7,703.6H609.4V706.3H606.7ZM609.4,703.6H612.1V706.3H609.4ZM614.8,703.6H617.5V706.3H614.8ZM617.5,703.6H620.2V706.3H617.5ZM620.2,703.6H622.9V706.3H620.2ZM622.9,703.6H625.6V706.3H622.9ZM625.6,703.6H628.3V706.3H625.6ZM598.6,706.3H601.3V709.0H598.6ZM604.0,706.3H606.7V709.0H604.0ZM606.7,706.3H609.4V709.0H606.7ZM612.1,706.3H614.8V709.0H612.1ZM617.5,706.3H620.2V709.0H617.5ZM620.2,706.3H622.9V709.0H620.2ZM622.9,706.3H625.6V709.0H622.9ZM625.6,706.3H628.3V709.0H625.6ZM609.4,709.0H612.1V711.7H609.4ZM612.1,709.0H614.8V711.7H612.1ZM614.8,709.0H617.5V711.7H614.8ZM617.5,709.0H620.2V711.7H617.5ZM620.2,709.0H622.9V711.7H620.2ZM622.9,709.0H625.6V711.7H622.9ZM625.6,709.0H628.3V711.7H625.6ZM628.3,709.0H631.0V711.7H628.3ZM614.8,711.7H617.5V714.4H614.8ZM617.5,711.7H620.2V714.4H617.5ZM620.2,711.7H622.9V714.4H620.2ZM622.9,711.7H625.6V714.4H622.9ZM625.6,711.7H628.3V714.4H625.6ZM628.3,711.7H631.0V714.4H628.3ZM601.3,714.4H604.0V717.1H601.3ZM604.0,714.4H606.7V717.1H604.0ZM612.1,714.4H614.8V717.1H612.1ZM614.8,714.4H617.5V717.1H614.8ZM617.5,714.4H620.2V717.1H617.5ZM620.2,714.4H622.9V717.1H620.2ZM622.9,714.4H625.6V717.1H622.9ZM625.6,714.4H628.3V717.1H625.6ZM628.3,714.4H631.0V717.1H628.3ZM612.1,717.1H614.8V719.8H612.1ZM614.8,717.1H617.5V719.8H614.8ZM617.5,717.1H620.2V719.8H617.5ZM620.2,717.1H622.9V719.8H620.2ZM622.9,717.1H625.6V719.8H622.9ZM625.6,717.1H628.3V719.8H625.6ZM628.3,717.1H631.0V719.8H628.3ZM601.3,719.8H604.0V722.5H601.3ZM604.0,719.8H606.7V722.5H604.0ZM609.4,719.8H612.1V722.5H609.4ZM614.8,719.8H617.5V722.5H614.8ZM617.5,719.8H620.2V722.5H617.5ZM620.2,719.8H622.9V722.5H620.2ZM622.9,719.8H625.6V722.5H622.9ZM625.6,719.8H628.3V722.5H625.6ZM628.3,719.8H631.0V722.5H628.3ZM601.3,722.5H604.0V725.2H601.3ZM606.7,722.5H609.4V725.2H606.7ZM612.1,722.5H614.8V725.2H612.1ZM614.8,722.5H617.5V725.2H614.8ZM617.5,722.5H620.2V725.2H617.5ZM620.2,722.5H622.9V725.2H620.2ZM622.9,722.5H625.6V725.2H622.9ZM625.6,722.5H628.3V725.2H625.6ZM628.3,722.5H631.0V725.2H628.3ZM604.0,725.2H606.7V727.9H604.0ZM609.4,725.2H612.1V727.9H609.4ZM612.1,725.2H614.8V727.9H612.1ZM614.8,725.2H617.5V727.9H614.8ZM620.2,725.2H622.9V727.9H620.2ZM622.9,725.2H625.6V727.9H622.9ZM625.6,725.2H628.3V727.9H625.6ZM628.3,725.2H631.0V727.9H628.3ZM606.7,727.9H609.4V730.6H606.7ZM609.4,727.9H612.1V730.6H609.4ZM612.1,727.9H614.8V730.6H612.1ZM614.8,727.9H617.5V730.6H614.8ZM617.5,727.9H620.2V730.6H617.5ZM620.2,727.9H622.9V730.6H620.2ZM622.9,727.9H625.6V730.6H622.9ZM625.6,727.9H628.3V730.6H625.6ZM628.3,727.9H631.0V730.6H628.3ZM601.3,730.6H604.0V733.3H601.3ZM606.7,730.6H609.4V733.3H606.7ZM612.1,730.6H614.8V733.3H612.1ZM614.8,730.6H617.5V733.3H614.8ZM617.5,730.6H620.2V733.3H617.5ZM620.2,730.6H622.9V733.3H620.2ZM622.9,730.6H625.6V733.3H622.9ZM625.6,730.6H628.3V733.3H625.6ZM628.3,730.6H631.0V733.3H628.3ZM601.3,733.3H604.0V736.0H601.3ZM604.0,733.3H606.7V736.0H604.0ZM606.7,733.3H609.4V736.0H606.7ZM609.4,733.3H612.1V736.0H609.4ZM612.1,733.3H614.8V736.0H612.1ZM614.8,733.3H617.5V736.0H614.8ZM617.5,733.3H620.2V736.0H617.5ZM620.2,733.3H622.9V736.0H620.2ZM622.9,733.3H625.6V736.0H622.9ZM625.6,733.3H628.3V736.0H625.6ZM628.3,733.3H631.0V736.0H628.3ZM601.3,736.0H604.0V738.7H601.3ZM604.0,736.0H606.7V738.7H604.0ZM612.1,736.0H614.8V738.7H612.1ZM614.8,736.0H617.5V738.7H614.8ZM617.5,736.0H620.2V738.7H617.5ZM620.2,736.0H622.9V738.7H620.2ZM622.9,736.0H625.6V738.7H622.9ZM625.6,736.0H628.3V738.7H625.6ZM628.3,736.0H631.0V738.7H628.3ZM601.3,738.7H604.0V741.4H601.3ZM612.1,738.7H614.8V741.4H612.1ZM614.8,738.7H617.5V741.4H614.8ZM620.2,738.7H622.9V741.4H620.2ZM622.9,738.7H625.6V741.4H622.9ZM625.6,738.7H628.3V741.4H625.6ZM628.3,738.7H631.0V741.4H628.3ZM601.3,741.4H604.0V744.1H601.3ZM604.0,741.4H606.7V744.1H604.0ZM612.1,741.4H614.8V744.1H612.1ZM614.8,741.4H617.5V744.1H614.8ZM617.5,741.4H620.2V744.1H617.5ZM620.2,741.4H622.9V744.1H620.2ZM622.9,741.4H625.6V744.1H622.9ZM625.6,741.4H628.3V744.1H625.6ZM628.3,741.4H631.0V744.1H628.3ZM604.0,744.1H606.7V746.8H604.0ZM606.7,744.1H609.4V746.8H606.7ZM609.4,744.1H612.1V746.8H609.4ZM612.1,744.1H614.8V746.8H612.1ZM614.8,744.1H617.5V746.8H614.8ZM617.5,744.1H620.2V746.8H617.5ZM620.2,744.1H622.9V746.8H620.2ZM622.9,744.1H625.6V746.8H622.9ZM625.6,744.1H628.3V746.8H625.6ZM628.3,744.1H631.0V746.8H628.3ZM609.4,746.8H612.1V749.5H609.4ZM612.1,746.8H614.8V749.5H612.1ZM614.8,746.8H617.5V749.5H614.8ZM617.5,746.8H620.2V749.5H617.5ZM620.2,746.8H622.9V749.5H620.2ZM622.9,746.8H625.6V749.5H622.9ZM625.6,746.8H628.3V749.5H625.6ZM628.3,746.8H631.0V749.5H628.3ZM601.3,749.5H604.0V752.2H601.3ZM604.0,749.5H606.7V752.2H604.0ZM606.7,749.5H609.4V752.2H606.7ZM612.1,749.5H614.8V752.2H612.1ZM614.8,749.5H617.5V752.2H614.8ZM617.5,749.5H620.2V752.2H617.5ZM620.2,749.5H622.9V752.2H620.2ZM622.9,749.5H625.6V752.2H622.9ZM625.6,749.5H628.3V752.2H625.6ZM628.3,749.5H631.0V752.2H628.3ZM604.0,752.2H606.7V754.9H604.0ZM612.1,752.2H614.8V754.9H612.1ZM614.8,752.2H617.5V754.9H614.8ZM617.5,752.2H620.2V754.9H617.5ZM620.2,752.2H622.9V754.9H620.2ZM622.9,752.2H625.6V754.9H622.9ZM625.6,752.2H628.3V754.9H625.6ZM628.3,752.2H631.0V754.9H628.3Z" fill="#3753a6" shape-rendering="crispEdges"/>
<path d="M700.0,559.8H773.0V564.9H700.0ZM696.0,563.0H706.0V566.0H696.0ZM670.7,733.0H689.0V755.0H670.7ZM670.7,721.0H685.0V733.0H670.7ZM718.1,574.6H724.2V579.8H718.1ZM721.4,584.4H725.6V588.6H721.4ZM707.4,590.0H709.8V594.6H707.4ZM713.0,602.1H720.5V610.5H713.0ZM723.7,599.3H725.6V603.9H723.7ZM741.8,608.1H747.0V613.7H741.8ZM715.3,614.2H721.0V619.0H715.3ZM721.0,619.0H727.9V624.4H721.0ZM718.1,638.4H723.2V643.0H718.1ZM731.6,658.8H736.3V664.4H731.6ZM747.0,661.6H752.1V667.7H747.0ZM767.9,664.9H773.0V670.4H767.9ZM707.4,667.2H712.1V674.6H707.4ZM717.7,676.5H721.0V680.0H717.7ZM724.0,673.7H727.5V677.0H724.0ZM707.0,670.0H712.2V673.1H707.0ZM718.4,677.3H722.6V682.5H718.4ZM726.2,674.7H730.9V679.3H726.2ZM768.3,683.0H772.4V688.2H768.3ZM705.5,689.2H710.1V693.9H705.5ZM710.1,691.8H720.0V700.1H710.1ZM721.0,716.2H725.2V718.8H721.0ZM702.9,721.9H707.0V727.1H702.9ZM699.8,730.7H702.4V735.9H699.8ZM710.7,731.3H714.8V736.5H710.7ZM693.1,565.9H695.8V568.6H693.1ZM695.8,565.9H698.5V568.6H695.8ZM698.5,565.9H701.2V568.6H698.5ZM701.2,565.9H703.9V568.6H701.2ZM703.9,565.9H706.6V568.6H703.9ZM706.6,565.9H709.3V568.6H706.6ZM709.3,565.9H712.0V568.6H709.3ZM693.1,568.6H695.8V571.3H693.1ZM695.8,568.6H698.5V571.3H695.8ZM698.5,568.6H701.2V571.3H698.5ZM701.2,568.6H703.9V571.3H701.2ZM703.9,568.6H706.6V571.3H703.9ZM706.6,568.6H709.3V571.3H706.6ZM693.1,571.3H695.8V574.0H693.1ZM695.8,571.3H698.5V574.0H695.8ZM701.2,571.3H703.9V574.0H701.2ZM703.9,571.3H706.6V574.0H703.9ZM706.6,571.3H709.3V574.0H706.6ZM693.1,574.0H695.8V576.7H693.1ZM695.8,574.0H698.5V576.7H695.8ZM698.5,574.0H701.2V576.7H698.5ZM701.2,574.0H703.9V576.7H701.2ZM712.0,574.0H714.7V576.7H712.0ZM693.1,576.7H695.8V579.4H693.1ZM698.5,576.7H701.2V579.4H698.5ZM709.3,576.7H712.0V579.4H709.3ZM693.1,579.4H695.8V582.1H693.1ZM695.8,579.4H698.5V582.1H695.8ZM698.5,579.4H701.2V582.1H698.5ZM701.2,579.4H703.9V582.1H701.2ZM703.9,579.4H706.6V582.1H703.9ZM706.6,579.4H709.3V582.1H706.6ZM709.3,579.4H712.0V582.1H709.3ZM693.1,582.1H695.8V584.8H693.1ZM695.8,582.1H698.5V584.8H695.8ZM709.3,582.1H712.0V584.8H709.3ZM712.0,582.1H714.7V584.8H712.0ZM693.1,584.8H695.8V587.5H693.1ZM695.8,584.8H698.5V587.5H695.8ZM698.5,584.8H701.2V587.5H698.5ZM701.2,584.8H703.9V587.5H701.2ZM703.9,584.8H706.6V587.5H703.9ZM690.4,587.5H693.1V590.2H690.4ZM693.1,587.5H695.8V590.2H693.1ZM698.5,587.5H701.2V590.2H698.5ZM703.9,587.5H706.6V590.2H703.9ZM690.4,590.2H693.1V592.9H690.4ZM693.1,590.2H695.8V592.9H693.1ZM695.8,590.2H698.5V592.9H695.8ZM698.5,590.2H701.2V592.9H698.5ZM701.2,590.2H703.9V592.9H701.2ZM706.6,590.2H709.3V592.9H706.6ZM709.3,590.2H712.0V592.9H709.3ZM690.4,592.9H693.1V595.6H690.4ZM693.1,592.9H695.8V595.6H693.1ZM698.5,592.9H701.2V595.6H698.5ZM701.2,592.9H703.9V595.6H701.2ZM706.6,592.9H709.3V595.6H706.6ZM690.4,595.6H693.1V598.3H690.4ZM693.1,595.6H695.8V598.3H693.1ZM695.8,595.6H698.5V598.3H695.8ZM698.5,595.6H701.2V598.3H698.5ZM701.2,595.6H703.9V598.3H701.2ZM690.4,598.3H693.1V601.0H690.4ZM693.1,598.3H695.8V601.0H693.1ZM695.8,598.3H698.5V601.0H695.8ZM701.2,598.3H703.9V601.0H701.2ZM703.9,598.3H706.6V601.0H703.9ZM690.4,601.0H693.1V603.7H690.4ZM693.1,601.0H695.8V603.7H693.1ZM695.8,601.0H698.5V603.7H695.8ZM701.2,601.0H703.9V603.7H701.2ZM706.6,601.0H709.3V603.7H706.6ZM709.3,601.0H712.0V603.7H709.3ZM687.7,603.7H690.4V606.4H687.7ZM690.4,603.7H693.1V606.4H690.4ZM693.1,603.7H695.8V606.4H693.1ZM695.8,603.7H698.5V606.4H695.8ZM701.2,603.7H703.9V606.4H701.2ZM687.7,606.4H690.4V609.1H687.7ZM690.4,606.4H693.1V609.1H690.4ZM693.1,606.4H695.8V609.1H693.1ZM695.8,606.4H698.5V609.1H695.8ZM698.5,606.4H701.2V609.1H698.5ZM701.2,606.4H703.9V609.1H701.2ZM687.7,609.1H690.4V611.8H687.7ZM690.4,609.1H693.1V611.8H690.4ZM693.1,609.1H695.8V611.8H693.1ZM698.5,609.1H701.2V611.8H698.5ZM701.2,609.1H703.9V611.8H701.2ZM703.9,609.1H706.6V611.8H703.9ZM687.7,611.8H690.4V614.5H687.7ZM690.4,611.8H693.1V614.5H690.4ZM693.1,611.8H695.8V614.5H693.1ZM695.8,611.8H698.5V614.5H695.8ZM706.6,611.8H709.3V614.5H706.6ZM687.7,614.5H690.4V617.2H687.7ZM690.4,614.5H693.1V617.2H690.4ZM693.1,614.5H695.8V617.2H693.1ZM698.5,614.5H701.2V617.2H698.5ZM701.2,614.5H703.9V617.2H701.2ZM709.3,614.5H712.0V617.2H709.3ZM687.7,617.2H690.4V619.9H687.7ZM690.4,617.2H693.1V619.9H690.4ZM693.1,617.2H695.8V619.9H693.1ZM695.8,617.2H698.5V619.9H695.8ZM701.2,617.2H703.9V619.9H701.2ZM703.9,617.2H706.6V619.9H703.9ZM687.7,619.9H690.4V622.6H687.7ZM690.4,619.9H693.1V622.6H690.4ZM693.1,619.9H695.8V622.6H693.1ZM695.8,619.9H698.5V622.6H695.8ZM698.5,619.9H701.2V622.6H698.5ZM701.2,619.9H703.9V622.6H701.2ZM703.9,619.9H706.6V622.6H703.9ZM709.3,619.9H712.0V622.6H709.3ZM687.7,622.6H690.4V625.3H687.7ZM690.4,622.6H693.1V625.3H690.4ZM693.1,622.6H695.8V625.3H693.1ZM695.8,622.6H698.5V625.3H695.8ZM703.9,622.6H706.6V625.3H703.9ZM685.0,625.3H687.7V628.0H685.0ZM687.7,625.3H690.4V628.0H687.7ZM690.4,625.3H693.1V628.0H690.4ZM693.1,625.3H695.8V628.0H693.1ZM695.8,625.3H698.5V628.0H695.8ZM698.5,625.3H701.2V628.0H698.5ZM701.2,625.3H703.9V628.0H701.2ZM703.9,625.3H706.6V628.0H703.9ZM685.0,628.0H687.7V630.7H685.0ZM687.7,628.0H690.4V630.7H687.7ZM690.4,628.0H693.1V630.7H690.4ZM693.1,628.0H695.8V630.7H693.1ZM695.8,628.0H698.5V630.7H695.8ZM703.9,628.0H706.6V630.7H703.9ZM685.0,630.7H687.7V633.4H685.0ZM687.7,630.7H690.4V633.4H687.7ZM690.4,630.7H693.1V633.4H690.4ZM695.8,630.7H698.5V633.4H695.8ZM698.5,630.7H701.2V633.4H698.5ZM706.6,630.7H709.3V633.4H706.6ZM685.0,633.4H687.7V636.1H685.0ZM690.4,633.4H693.1V636.1H690.4ZM693.1,633.4H695.8V636.1H693.1ZM695.8,633.4H698.5V636.1H695.8ZM698.5,633.4H701.2V636.1H698.5ZM701.2,633.4H703.9V636.1H701.2ZM709.3,633.4H712.0V636.1H709.3ZM685.0,636.1H687.7V638.8H685.0ZM687.7,636.1H690.4V638.8H687.7ZM690.4,636.1H693.1V638.8H690.4ZM693.1,636.1H695.8V638.8H693.1ZM695.8,636.1H698.5V638.8H695.8ZM682.3,638.8H685.0V641.5H682.3ZM685.0,638.8H687.7V641.5H685.0ZM687.7,638.8H690.4V641.5H687.7ZM690.4,638.8H693.1V641.5H690.4ZM693.1,638.8H695.8V641.5H693.1ZM698.5,638.8H701.2V641.5H698.5ZM701.2,638.8H703.9V641.5H701.2ZM682.3,641.5H685.0V644.2H682.3ZM685.0,641.5H687.7V644.2H685.0ZM687.7,641.5H690.4V644.2H687.7ZM690.4,641.5H693.1V644.2H690.4ZM693.1,641.5H695.8V644.2H693.1ZM682.3,644.2H685.0V646.9H682.3ZM685.0,644.2H687.7V646.9H685.0ZM687.7,644.2H690.4V646.9H687.7ZM690.4,644.2H693.1V646.9H690.4ZM693.1,644.2H695.8V646.9H693.1ZM701.2,644.2H703.9V646.9H701.2ZM703.9,644.2H706.6V646.9H703.9ZM706.6,644.2H709.3V646.9H706.6ZM682.3,646.9H685.0V649.6H682.3ZM685.0,646.9H687.7V649.6H685.0ZM687.7,646.9H690.4V649.6H687.7ZM690.4,646.9H693.1V649.6H690.4ZM693.1,646.9H695.8V649.6H693.1ZM698.5,646.9H701.2V649.6H698.5ZM701.2,646.9H703.9V649.6H701.2ZM703.9,646.9H706.6V649.6H703.9ZM706.6,646.9H709.3V649.6H706.6ZM682.3,649.6H685.0V652.3H682.3ZM685.0,649.6H687.7V652.3H685.0ZM687.7,649.6H690.4V652.3H687.7ZM690.4,649.6H693.1V652.3H690.4ZM693.1,649.6H695.8V652.3H693.1ZM698.5,649.6H701.2V652.3H698.5ZM701.2,649.6H703.9V652.3H701.2ZM703.9,649.6H706.6V652.3H703.9ZM679.6,652.3H682.3V655.0H679.6ZM682.3,652.3H685.0V655.0H682.3ZM685.0,652.3H687.7V655.0H685.0ZM687.7,652.3H690.4V655.0H687.7ZM690.4,652.3H693.1V655.0H690.4ZM693.1,652.3H695.8V655.0H693.1ZM695.8,652.3H698.5V655.0H695.8ZM706.6,652.3H709.3V655.0H706.6ZM679.6,655.0H682.3V657.7H679.6ZM682.3,655.0H685.0V657.7H682.3ZM685.0,655.0H687.7V657.7H685.0ZM687.7,655.0H690.4V657.7H687.7ZM690.4,655.0H693.1V657.7H690.4ZM693.1,655.0H695.8V657.7H693.1ZM695.8,655.0H698.5V657.7H695.8ZM712.0,655.0H714.7V657.7H712.0ZM679.6,657.7H682.3V660.4H679.6ZM682.3,657.7H685.0V660.4H682.3ZM685.0,657.7H687.7V660.4H685.0ZM687.7,657.7H690.4V660.4H687.7ZM690.4,657.7H693.1V660.4H690.4ZM693.1,657.7H695.8V660.4H693.1ZM701.2,657.7H703.9V660.4H701.2ZM703.9,657.7H706.6V660.4H703.9ZM706.6,657.7H709.3V660.4H706.6ZM712.0,657.7H714.7V660.4H712.0ZM679.6,660.4H682.3V663.1H679.6ZM682.3,660.4H685.0V663.1H682.3ZM685.0,660.4H687.7V663.1H685.0ZM687.7,660.4H690.4V663.1H687.7ZM690.4,660.4H693.1V663.1H690.4ZM693.1,660.4H695.8V663.1H693.1ZM695.8,660.4H698.5V663.1H695.8ZM698.5,660.4H701.2V663.1H698.5ZM701.2,660.4H703.9V663.1H701.2ZM706.6,660.4H709.3V663.1H706.6ZM679.6,663.1H682.3V665.8H679.6ZM682.3,663.1H685.0V665.8H682.3ZM685.0,663.1H687.7V665.8H685.0ZM687.7,663.1H690.4V665.8H687.7ZM693.1,663.1H695.8V665.8H693.1ZM695.8,663.1H698.5V665.8H695.8ZM698.5,663.1H701.2V665.8H698.5ZM701.2,663.1H703.9V665.8H701.2ZM709.3,663.1H712.0V665.8H709.3ZM712.0,663.1H714.7V665.8H712.0ZM714.7,663.1H717.4V665.8H714.7ZM679.6,665.8H682.3V668.5H679.6ZM682.3,665.8H685.0V668.5H682.3ZM685.0,665.8H687.7V668.5H685.0ZM687.7,665.8H690.4V668.5H687.7ZM690.4,665.8H693.1V668.5H690.4ZM693.1,665.8H695.8V668.5H693.1ZM695.8,665.8H698.5V668.5H695.8ZM698.5,665.8H701.2V668.5H698.5ZM701.2,665.8H703.9V668.5H701.2ZM703.9,665.8H706.6V668.5H703.9ZM706.6,665.8H709.3V668.5H706.6ZM679.6,668.5H682.3V671.2H679.6ZM682.3,668.5H685.0V671.2H682.3ZM685.0,668.5H687.7V671.2H685.0ZM687.7,668.5H690.4V671.2H687.7ZM690.4,668.5H693.1V671.2H690.4ZM693.1,668.5H695.8V671.2H693.1ZM695.8,668.5H698.5V671.2H695.8ZM701.2,668.5H703.9V671.2H701.2ZM703.9,668.5H706.6V671.2H703.9ZM706.6,668.5H709.3V671.2H706.6ZM717.4,668.5H720.1V671.2H717.4ZM679.6,671.2H682.3V673.9H679.6ZM682.3,671.2H685.0V673.9H682.3ZM685.0,671.2H687.7V673.9H685.0ZM687.7,671.2H690.4V673.9H687.7ZM690.4,671.2H693.1V673.9H690.4ZM693.1,671.2H695.8V673.9H693.1ZM695.8,671.2H698.5V673.9H695.8ZM698.5,671.2H701.2V673.9H698.5ZM701.2,671.2H703.9V673.9H701.2ZM703.9,671.2H706.6V673.9H703.9ZM676.9,673.9H679.6V676.6H676.9ZM679.6,673.9H682.3V676.6H679.6ZM682.3,673.9H685.0V676.6H682.3ZM687.7,673.9H690.4V676.6H687.7ZM690.4,673.9H693.1V676.6H690.4ZM693.1,673.9H695.8V676.6H693.1ZM701.2,673.9H703.9V676.6H701.2ZM703.9,673.9H706.6V676.6H703.9ZM676.9,676.6H679.6V679.3H676.9ZM679.6,676.6H682.3V679.3H679.6ZM682.3,676.6H685.0V679.3H682.3ZM685.0,676.6H687.7V679.3H685.0ZM693.1,676.6H695.8V679.3H693.1ZM698.5,676.6H701.2V679.3H698.5ZM701.2,676.6H703.9V679.3H701.2ZM703.9,676.6H706.6V679.3H703.9ZM709.3,676.6H712.0V679.3H709.3ZM717.4,676.6H720.1V679.3H717.4ZM676.9,679.3H679.6V682.0H676.9ZM679.6,679.3H682.3V682.0H679.6ZM682.3,679.3H685.0V682.0H682.3ZM685.0,679.3H687.7V682.0H685.0ZM687.7,679.3H690.4V682.0H687.7ZM690.4,679.3H693.1V682.0H690.4ZM693.1,679.3H695.8V682.0H693.1ZM698.5,679.3H701.2V682.0H698.5ZM701.2,679.3H703.9V682.0H701.2ZM706.6,679.3H709.3V682.0H706.6ZM676.9,682.0H679.6V684.7H676.9ZM679.6,682.0H682.3V684.7H679.6ZM682.3,682.0H685.0V684.7H682.3ZM685.0,682.0H687.7V684.7H685.0ZM687.7,682.0H690.4V684.7H687.7ZM693.1,682.0H695.8V684.7H693.1ZM695.8,682.0H698.5V684.7H695.8ZM698.5,682.0H701.2V684.7H698.5ZM703.9,682.0H706.6V684.7H703.9ZM706.6,682.0H709.3V684.7H706.6ZM712.0,682.0H714.7V684.7H712.0ZM676.9,684.7H679.6V687.4H676.9ZM679.6,684.7H682.3V687.4H679.6ZM682.3,684.7H685.0V687.4H682.3ZM685.0,684.7H687.7V687.4H685.0ZM687.7,684.7H690.4V687.4H687.7ZM690.4,684.7H693.1V687.4H690.4ZM693.1,684.7H695.8V687.4H693.1ZM695.8,684.7H698.5V687.4H695.8ZM698.5,684.7H701.2V687.4H698.5ZM701.2,684.7H703.9V687.4H701.2ZM706.6,684.7H709.3V687.4H706.6ZM709.3,684.7H712.0V687.4H709.3ZM720.1,684.7H722.8V687.4H720.1ZM676.9,687.4H679.6V690.1H676.9ZM679.6,687.4H682.3V690.1H679.6ZM685.0,687.4H687.7V690.1H685.0ZM690.4,687.4H693.1V690.1H690.4ZM693.1,687.4H695.8V690.1H693.1ZM695.8,687.4H698.5V690.1H695.8ZM698.5,687.4H701.2V690.1H698.5ZM701.2,687.4H703.9V690.1H701.2ZM676.9,690.1H679.6V692.8H676.9ZM679.6,690.1H682.3V692.8H679.6ZM682.3,690.1H685.0V692.8H682.3ZM685.0,690.1H687.7V692.8H685.0ZM687.7,690.1H690.4V692.8H687.7ZM693.1,690.1H695.8V692.8H693.1ZM695.8,690.1H698.5V692.8H695.8ZM698.5,690.1H701.2V692.8H698.5ZM701.2,690.1H703.9V692.8H701.2ZM703.9,690.1H706.6V692.8H703.9ZM706.6,690.1H709.3V692.8H706.6ZM676.9,692.8H679.6V695.5H676.9ZM679.6,692.8H682.3V695.5H679.6ZM682.3,692.8H685.0V695.5H682.3ZM685.0,692.8H687.7V695.5H685.0ZM687.7,692.8H690.4V695.5H687.7ZM690.4,692.8H693.1V695.5H690.4ZM693.1,692.8H695.8V695.5H693.1ZM698.5,692.8H701.2V695.5H698.5ZM701.2,692.8H703.9V695.5H701.2ZM706.6,692.8H709.3V695.5H706.6ZM712.0,692.8H714.7V695.5H712.0ZM676.9,695.5H679.6V698.2H676.9ZM679.6,695.5H682.3V698.2H679.6ZM682.3,695.5H685.0V698.2H682.3ZM685.0,695.5H687.7V698.2H685.0ZM687.7,695.5H690.4V698.2H687.7ZM690.4,695.5H693.1V698.2H690.4ZM693.1,695.5H695.8V698.2H693.1ZM695.8,695.5H698.5V698.2H695.8ZM698.5,695.5H701.2V698.2H698.5ZM701.2,695.5H703.9V698.2H701.2ZM706.6,695.5H709.3V698.2H706.6ZM709.3,695.5H712.0V698.2H709.3ZM674.2,698.2H676.9V700.9H674.2ZM676.9,698.2H679.6V700.9H676.9ZM679.6,698.2H682.3V700.9H679.6ZM682.3,698.2H685.0V700.9H682.3ZM687.7,698.2H690.4V700.9H687.7ZM690.4,698.2H693.1V700.9H690.4ZM693.1,698.2H695.8V700.9H693.1ZM698.5,698.2H701.2V700.9H698.5ZM703.9,698.2H706.6V700.9H703.9ZM674.2,700.9H676.9V703.6H674.2ZM676.9,700.9H679.6V703.6H676.9ZM679.6,700.9H682.3V703.6H679.6ZM682.3,700.9H685.0V703.6H682.3ZM685.0,700.9H687.7V703.6H685.0ZM687.7,700.9H690.4V703.6H687.7ZM690.4,700.9H693.1V703.6H690.4ZM693.1,700.9H695.8V703.6H693.1ZM698.5,700.9H701.2V703.6H698.5ZM674.2,703.6H676.9V706.3H674.2ZM676.9,703.6H679.6V706.3H676.9ZM679.6,703.6H682.3V706.3H679.6ZM682.3,703.6H685.0V706.3H682.3ZM685.0,703.6H687.7V706.3H685.0ZM687.7,703.6H690.4V706.3H687.7ZM693.1,703.6H695.8V706.3H693.1ZM695.8,703.6H698.5V706.3H695.8ZM674.2,706.3H676.9V709.0H674.2ZM676.9,706.3H679.6V709.0H676.9ZM679.6,706.3H682.3V709.0H679.6ZM682.3,706.3H685.0V709.0H682.3ZM690.4,706.3H693.1V709.0H690.4ZM693.1,706.3H695.8V709.0H693.1ZM695.8,706.3H698.5V709.0H695.8ZM698.5,706.3H701.2V709.0H698.5ZM674.2,709.0H676.9V711.7H674.2ZM679.6,709.0H682.3V711.7H679.6ZM682.3,709.0H685.0V711.7H682.3ZM685.0,709.0H687.7V711.7H685.0ZM693.1,709.0H695.8V711.7H693.1ZM671.5,711.7H674.2V714.4H671.5ZM676.9,711.7H679.6V714.4H676.9ZM679.6,711.7H682.3V714.4H679.6ZM682.3,711.7H685.0V714.4H682.3ZM685.0,711.7H687.7V714.4H685.0ZM690.4,711.7H693.1V714.4H690.4ZM671.5,714.4H674.2V717.1H671.5ZM674.2,714.4H676.9V717.1H674.2ZM676.9,714.4H679.6V717.1H676.9ZM679.6,714.4H682.3V717.1H679.6ZM682.3,714.4H685.0V717.1H682.3ZM685.0,714.4H687.7V717.1H685.0ZM687.7,714.4H690.4V717.1H687.7ZM690.4,714.4H693.1V717.1H690.4ZM671.5,717.1H674.2V719.8H671.5ZM674.2,717.1H676.9V719.8H674.2ZM676.9,717.1H679.6V719.8H676.9ZM679.6,717.1H682.3V719.8H679.6ZM685.0,717.1H687.7V719.8H685.0ZM693.1,717.1H695.8V719.8H693.1ZM695.8,717.1H698.5V719.8H695.8ZM671.5,719.8H674.2V722.5H671.5ZM674.2,719.8H676.9V722.5H674.2ZM676.9,719.8H679.6V722.5H676.9ZM682.3,719.8H685.0V722.5H682.3ZM690.4,719.8H693.1V722.5H690.4ZM693.1,719.8H695.8V722.5H693.1ZM671.5,722.5H674.2V725.2H671.5ZM674.2,722.5H676.9V725.2H674.2ZM676.9,722.5H679.6V725.2H676.9ZM679.6,722.5H682.3V725.2H679.6ZM682.3,722.5H685.0V725.2H682.3ZM685.0,722.5H687.7V725.2H685.0ZM671.5,725.2H674.2V727.9H671.5ZM674.2,725.2H676.9V727.9H674.2ZM676.9,725.2H679.6V727.9H676.9ZM679.6,725.2H682.3V727.9H679.6ZM682.3,725.2H685.0V727.9H682.3ZM685.0,725.2H687.7V727.9H685.0ZM671.5,727.9H674.2V730.6H671.5ZM674.2,727.9H676.9V730.6H674.2ZM676.9,727.9H679.6V730.6H676.9ZM685.0,727.9H687.7V730.6H685.0ZM687.7,727.9H690.4V730.6H687.7ZM674.2,730.6H676.9V733.3H674.2ZM676.9,730.6H679.6V733.3H676.9ZM682.3,730.6H685.0V733.3H682.3ZM685.0,730.6H687.7V733.3H685.0ZM690.4,730.6H693.1V733.3H690.4ZM671.5,733.3H674.2V736.0H671.5ZM674.2,733.3H676.9V736.0H674.2ZM676.9,733.3H679.6V736.0H676.9ZM679.6,733.3H682.3V736.0H679.6ZM682.3,733.3H685.0V736.0H682.3ZM685.0,733.3H687.7V736.0H685.0ZM687.7,733.3H690.4V736.0H687.7ZM671.5,736.0H674.2V738.7H671.5ZM674.2,736.0H676.9V738.7H674.2ZM676.9,736.0H679.6V738.7H676.9ZM679.6,736.0H682.3V738.7H679.6ZM685.0,736.0H687.7V738.7H685.0ZM687.7,736.0H690.4V738.7H687.7ZM671.5,738.7H674.2V741.4H671.5ZM674.2,738.7H676.9V741.4H674.2ZM676.9,738.7H679.6V741.4H676.9ZM682.3,738.7H685.0V741.4H682.3ZM685.0,738.7H687.7V741.4H685.0ZM687.7,738.7H690.4V741.4H687.7ZM671.5,741.4H674.2V744.1H671.5ZM674.2,741.4H676.9V744.1H674.2ZM676.9,741.4H679.6V744.1H676.9ZM687.7,741.4H690.4V744.1H687.7ZM690.4,741.4H693.1V744.1H690.4ZM671.5,744.1H674.2V746.8H671.5ZM674.2,744.1H676.9V746.8H674.2ZM676.9,744.1H679.6V746.8H676.9ZM682.3,744.1H685.0V746.8H682.3ZM685.0,744.1H687.7V746.8H685.0ZM671.5,746.8H674.2V749.5H671.5ZM674.2,746.8H676.9V749.5H674.2ZM676.9,746.8H679.6V749.5H676.9ZM679.6,746.8H682.3V749.5H679.6ZM671.5,749.5H674.2V752.2H671.5ZM676.9,749.5H679.6V752.2H676.9ZM682.3,749.5H685.0V752.2H682.3ZM674.2,752.2H676.9V754.9H674.2ZM676.9,752.2H679.6V754.9H676.9ZM685.0,752.2H687.7V754.9H685.0ZM706.6,563.2H709.3V565.9H706.6ZM706.6,565.9H709.3V568.6H706.6ZM709.3,563.2H712.0V565.9H709.3ZM709.3,568.6H712.0V571.3H709.3ZM712.0,563.2H714.7V565.9H712.0ZM714.7,565.9H717.4V568.6H714.7ZM714.7,568.6H717.4V571.3H714.7ZM714.7,574.0H717.4V576.7H714.7ZM717.4,563.2H720.1V565.9H717.4ZM720.1,565.9H722.8V568.6H720.1ZM720.1,568.6H722.8V571.3H720.1ZM722.8,563.2H725.5V565.9H722.8ZM722.8,568.6H725.5V571.3H722.8ZM725.5,563.2H728.2V565.9H725.5ZM725.5,565.9H728.2V568.6H725.5ZM728.2,563.2H730.9V565.9H728.2ZM730.9,563.2H733.6V565.9H730.9ZM706.6,646.9H709.3V649.6H706.6ZM706.6,652.3H709.3V655.0H706.6ZM706.6,655.0H709.3V657.7H706.6ZM706.6,657.7H709.3V660.4H706.6ZM709.3,649.6H712.0V652.3H709.3ZM709.3,652.3H712.0V655.0H709.3ZM712.0,649.6H714.7V652.3H712.0ZM712.0,652.3H714.7V655.0H712.0ZM712.0,655.0H714.7V657.7H712.0ZM717.4,646.9H720.1V649.6H717.4ZM717.4,649.6H720.1V652.3H717.4ZM717.4,652.3H720.1V655.0H717.4ZM720.1,649.6H722.8V652.3H720.1ZM720.1,652.3H722.8V655.0H720.1ZM720.1,655.0H722.8V657.7H720.1ZM722.8,655.0H725.5V657.7H722.8ZM722.8,657.7H725.5V660.4H722.8Z" fill="#d41e25" shape-rendering="crispEdges"/>
<line x1="632.70" y1="552.40" x2="632.70" y2="794.60" stroke="#000" stroke-width="2.0" />
<line x1="669.40" y1="552.40" x2="669.40" y2="794.60" stroke="#000" stroke-width="2.0" />
<line x1="520.30" y1="755.90" x2="782.00" y2="755.90" stroke="#000" stroke-width="2.2" />
<rect x="520.3" y="552.4" width="261.7" height="242.2" fill="none" stroke="#2b2b2b" stroke-width="2"/>
<line x1="515.00" y1="563.30" x2="520.30" y2="563.30" stroke="#2b2b2b" stroke-width="1.8" />
<line x1="515.00" y1="618.30" x2="520.30" y2="618.30" stroke="#2b2b2b" stroke-width="1.8" />
<line x1="515.00" y1="674.80" x2="520.30" y2="674.80" stroke="#2b2b2b" stroke-width="1.8" />
<line x1="515.00" y1="729.30" x2="520.30" y2="729.30" stroke="#2b2b2b" stroke-width="1.8" />
<line x1="515.00" y1="786.60" x2="520.30" y2="786.60" stroke="#2b2b2b" stroke-width="1.8" />
<line x1="530.20" y1="794.60" x2="530.20" y2="798.10" stroke="#2b2b2b" stroke-width="1.6" />
<line x1="590.50" y1="794.60" x2="590.50" y2="798.10" stroke="#2b2b2b" stroke-width="1.6" />
<line x1="650.90" y1="794.60" x2="650.90" y2="798.10" stroke="#2b2b2b" stroke-width="1.6" />
<line x1="711.20" y1="794.60" x2="711.20" y2="798.10" stroke="#2b2b2b" stroke-width="1.6" />
<line x1="771.60" y1="794.60" x2="771.60" y2="798.10" stroke="#2b2b2b" stroke-width="1.6" />
<text x="481.5" y="570.4" font-size="20" text-anchor="start" fill="#111" textLength="33.2" lengthAdjust="spacingAndGlyphs" >10.0</text>
<text x="481.5" y="624.3" font-size="20" text-anchor="start" fill="#111" textLength="24.0" lengthAdjust="spacingAndGlyphs" >7.5</text>
<text x="481.5" y="679.4" font-size="20" text-anchor="start" fill="#111" textLength="24.0" lengthAdjust="spacingAndGlyphs" >5.0</text>
<text x="481.5" y="733.5" font-size="20" text-anchor="start" fill="#111" textLength="24.0" lengthAdjust="spacingAndGlyphs" >2.5</text>
<text x="481.5" y="786.9" font-size="20" text-anchor="start" fill="#111" textLength="24.0" lengthAdjust="spacingAndGlyphs" >0.0</text>
<text x="522.9" y="820.4" font-size="19.5" text-anchor="middle" fill="#111" >-4</text>
<text x="581.9" y="820.4" font-size="19.5" text-anchor="middle" fill="#111" >-2</text>
<text x="631.6" y="820.4" font-size="19.5" text-anchor="middle" fill="#111" >0</text>
<text x="689.8" y="820.4" font-size="19.5" text-anchor="middle" fill="#111" >2</text>
<text x="742.2" y="820.4" font-size="19.5" text-anchor="middle" fill="#111" >4</text>
<text x="613.5" y="843.2" font-size="20.5" text-anchor="start" fill="#111" textLength="70.5" lengthAdjust="spacingAndGlyphs" >log2 FC</text>
<text transform="translate(460.5,679.8) rotate(-90)" x="0" y="0" font-size="20" text-anchor="middle" fill="#111" textLength="111.5" lengthAdjust="spacingAndGlyphs">-log10(FDR)</text>
<text x="598.0" y="538.4" font-size="20" text-anchor="start" fill="#111" textLength="103.3" lengthAdjust="spacingAndGlyphs" >Sham_LPS</text>
<text x="526.0" y="599.6" font-size="27" text-anchor="start" fill="#2d3096" textLength="45.0" lengthAdjust="spacingAndGlyphs" >793</text>
<text x="734.0" y="599.6" font-size="27" text-anchor="start" fill="#e8262c" textLength="46.0" lengthAdjust="spacingAndGlyphs" >893</text>
<line x1="471.30" y1="551.30" x2="473.90" y2="551.30" stroke="#222" stroke-width="1.3" />
<line x1="482.00" y1="551.30" x2="489.40" y2="551.30" stroke="#222" stroke-width="1.3" />
<line x1="503.50" y1="551.30" x2="510.80" y2="551.30" stroke="#222" stroke-width="1.3" />
<ellipse cx="279.7" cy="1141.1" rx="139.2" ry="141.0" fill="#fce2d6"/>
<ellipse cx="416.4" cy="1141.1" rx="138.6" ry="141.0" fill="#9a1a1e"/>
<clipPath id="cl"><ellipse cx="279.7" cy="1141.1" rx="139.2" ry="141.0"/></clipPath>
<ellipse cx="416.4" cy="1141.1" rx="138.6" ry="141.0" fill="#f8c5af" clip-path="url(#cl)"/>
<ellipse cx="279.7" cy="1141.1" rx="139.2" ry="141.0" fill="none" stroke="#fff" stroke-width="2.8"/>
<ellipse cx="416.4" cy="1141.1" rx="138.6" ry="141.0" fill="none" stroke="#fff" stroke-width="2.8"/>
<text x="208.0" y="1134.8" font-size="21" text-anchor="middle" fill="#111" >423</text>
<text x="208.0" y="1159.3" font-size="21" text-anchor="middle" fill="#111" >(20%)</text>
<text x="347.8" y="1134.8" font-size="21" text-anchor="middle" fill="#111" >513</text>
<text x="347.8" y="1159.3" font-size="21" text-anchor="middle" fill="#111" >(24%)</text>
<text x="487.3" y="1134.8" font-size="21" text-anchor="middle" fill="#111" >1173</text>
<text x="487.3" y="1159.3" font-size="21" text-anchor="middle" fill="#111" >(56%)</text>
<text x="221.0" y="1236.8" font-size="19.5" text-anchor="start" fill="#000" textLength="56.6" lengthAdjust="spacingAndGlyphs" >CLP</text>
<text x="420.4" y="1236.8" font-size="19.5" text-anchor="start" fill="#000" textLength="53.2" lengthAdjust="spacingAndGlyphs" >LPS</text>
<linearGradient id="cnt" x1="0" y1="0" x2="0" y2="1"><stop offset="0" stop-color="#9e1a1f"/><stop offset="0.12" stop-color="#c01f25"/><stop offset="0.235" stop-color="#d8262a"/><stop offset="0.34" stop-color="#e6423a"/><stop offset="0.5" stop-color="#ee6a50"/><stop offset="0.63" stop-color="#f28b6d"/><stop offset="0.765" stop-color="#f5a88c"/><stop offset="0.88" stop-color="#f9c6b0"/><stop offset="1" stop-color="#fde3d6"/></linearGradient>
<rect x="589.20" y="1059.60" width="35.10" height="177.20" fill="url(#cnt)" />
<line x1="589.20" y1="1101.00" x2="595.50" y2="1101.00" stroke="#fff" stroke-width="1.2" />
<line x1="618.00" y1="1101.00" x2="624.30" y2="1101.00" stroke="#fff" stroke-width="1.2" />
<line x1="589.20" y1="1147.80" x2="595.50" y2="1147.80" stroke="#fff" stroke-width="1.2" />
<line x1="618.00" y1="1147.80" x2="624.30" y2="1147.80" stroke="#fff" stroke-width="1.2" />
<line x1="589.20" y1="1195.00" x2="595.50" y2="1195.00" stroke="#fff" stroke-width="1.2" />
<line x1="618.00" y1="1195.00" x2="624.30" y2="1195.00" stroke="#fff" stroke-width="1.2" />
<text x="630.7" y="1105.4" font-size="19" text-anchor="start" fill="#000" textLength="57.3" lengthAdjust="spacingAndGlyphs" >1000</text>
<text x="630.7" y="1153.8" font-size="19" text-anchor="start" fill="#000" textLength="42.8" lengthAdjust="spacingAndGlyphs" >800</text>
<text x="630.7" y="1203.8" font-size="19" text-anchor="start" fill="#000" textLength="42.8" lengthAdjust="spacingAndGlyphs" >600</text>
<text x="564.5" y="1052.8" font-size="22.5" text-anchor="start" fill="#000" textLength="83.7" lengthAdjust="spacingAndGlyphs" >count</text>
<g shape-rendering="crispEdges">
<rect x="977.00" y="55.40" width="24.79" height="18.71" fill="#8471b9" />
<rect x="1001.39" y="55.40" width="24.79" height="18.71" fill="#9682c3" />
<rect x="1025.77" y="55.40" width="24.79" height="18.71" fill="#a08cc8" />
<rect x="1050.16" y="55.40" width="24.79" height="18.71" fill="#dcd0e8" />
<rect x="1074.54" y="55.40" width="24.79" height="18.71" fill="#f8c3b4" />
<rect x="1098.93" y="55.40" width="24.79" height="18.71" fill="#ee6349" />
<rect x="1123.31" y="55.40" width="24.79" height="18.71" fill="#f28b70" />
<rect x="977.00" y="73.71" width="24.79" height="18.71" fill="#8471b9" />
<rect x="1001.39" y="73.71" width="24.79" height="18.71" fill="#9682c3" />
<rect x="1025.77" y="73.71" width="24.79" height="18.71" fill="#e2daea" />
<rect x="1050.16" y="73.71" width="24.79" height="18.71" fill="#a08cc8" />
<rect x="1074.54" y="73.71" width="24.79" height="18.71" fill="#f9d1c7" />
<rect x="1098.93" y="73.71" width="24.79" height="18.71" fill="#ee6349" />
<rect x="1123.31" y="73.71" width="24.79" height="18.71" fill="#f07b5f" />
<rect x="977.00" y="92.02" width="24.79" height="18.71" fill="#7767b2" />
<rect x="1001.39" y="92.02" width="24.79" height="18.71" fill="#7b6bb4" />
<rect x="1025.77" y="92.02" width="24.79" height="18.71" fill="#c8b8dd" />
<rect x="1050.16" y="92.02" width="24.79" height="18.71" fill="#ea4535" />
<rect x="1074.54" y="92.02" width="24.79" height="18.71" fill="#f8e0d9" />
<rect x="1098.93" y="92.02" width="24.79" height="18.71" fill="#f8bfae" />
<rect x="1123.31" y="92.02" width="24.79" height="18.71" fill="#f7baa9" />
<rect x="977.00" y="110.32" width="24.79" height="18.71" fill="#7767b2" />
<rect x="1001.39" y="110.32" width="24.79" height="18.71" fill="#7364af" />
<rect x="1025.77" y="110.32" width="24.79" height="18.71" fill="#c8b8dd" />
<rect x="1050.16" y="110.32" width="24.79" height="18.71" fill="#ea4535" />
<rect x="1074.54" y="110.32" width="24.79" height="18.71" fill="#f8e0d9" />
<rect x="1098.93" y="110.32" width="24.79" height="18.71" fill="#f8bfae" />
<rect x="1123.31" y="110.32" width="24.79" height="18.71" fill="#f8bfae" />
<rect x="977.00" y="128.63" width="24.79" height="18.71" fill="#7b6bb4" />
<rect x="1001.39" y="128.63" width="24.79" height="18.71" fill="#beadd7" />
<rect x="1025.77" y="128.63" width="24.79" height="18.71" fill="#9682c3" />
<rect x="1050.16" y="128.63" width="24.79" height="18.71" fill="#ef6d52" />
<rect x="1074.54" y="128.63" width="24.79" height="18.71" fill="#d2c4e2" />
<rect x="1098.93" y="128.63" width="24.79" height="18.71" fill="#f5a087" />
<rect x="1123.31" y="128.63" width="24.79" height="18.71" fill="#f5a087" />
<rect x="977.00" y="146.94" width="24.79" height="18.71" fill="#7b6bb4" />
<rect x="1001.39" y="146.94" width="24.79" height="18.71" fill="#5c56aa" />
<rect x="1025.77" y="146.94" width="24.79" height="18.71" fill="#f5a087" />
<rect x="1050.16" y="146.94" width="24.79" height="18.71" fill="#f6a992" />
<rect x="1074.54" y="146.94" width="24.79" height="18.71" fill="#d2c4e2" />
<rect x="1098.93" y="146.94" width="24.79" height="18.71" fill="#f5a087" />
<rect x="1123.31" y="146.94" width="24.79" height="18.71" fill="#f6ad98" />
<rect x="977.00" y="165.25" width="24.79" height="18.71" fill="#a08cc8" />
<rect x="1001.39" y="165.25" width="24.79" height="18.71" fill="#a591cb" />
<rect x="1025.77" y="165.25" width="24.79" height="18.71" fill="#f39076" />
<rect x="1050.16" y="165.25" width="24.79" height="18.71" fill="#f28b70" />
<rect x="1074.54" y="165.25" width="24.79" height="18.71" fill="#5c56aa" />
<rect x="1098.93" y="165.25" width="24.79" height="18.71" fill="#f6b29e" />
<rect x="1123.31" y="165.25" width="24.79" height="18.71" fill="#f8c8ba" />
<rect x="977.00" y="183.56" width="24.79" height="18.71" fill="#b9a7d5" />
<rect x="1001.39" y="183.56" width="24.79" height="18.71" fill="#f8c3b4" />
<rect x="1025.77" y="183.56" width="24.79" height="18.71" fill="#f8c3b4" />
<rect x="1050.16" y="183.56" width="24.79" height="18.71" fill="#aa97cd" />
<rect x="1074.54" y="183.56" width="24.79" height="18.71" fill="#5c56aa" />
<rect x="1098.93" y="183.56" width="24.79" height="18.71" fill="#f49b81" />
<rect x="1123.31" y="183.56" width="24.79" height="18.71" fill="#ef6d52" />
<rect x="977.00" y="201.87" width="24.79" height="18.71" fill="#a08cc8" />
<rect x="1001.39" y="201.87" width="24.79" height="18.71" fill="#dcd0e8" />
<rect x="1025.77" y="201.87" width="24.79" height="18.71" fill="#f8c8ba" />
<rect x="1050.16" y="201.87" width="24.79" height="18.71" fill="#5c56aa" />
<rect x="1074.54" y="201.87" width="24.79" height="18.71" fill="#f4e8e4" />
<rect x="1098.93" y="201.87" width="24.79" height="18.71" fill="#ef6d52" />
<rect x="1123.31" y="201.87" width="24.79" height="18.71" fill="#f2866b" />
<rect x="977.00" y="220.18" width="24.79" height="18.71" fill="#f4e8e4" />
<rect x="1001.39" y="220.18" width="24.79" height="18.71" fill="#f9d6cd" />
<rect x="1025.77" y="220.18" width="24.79" height="18.71" fill="#f8c8ba" />
<rect x="1050.16" y="220.18" width="24.79" height="18.71" fill="#3756a6" />
<rect x="1074.54" y="220.18" width="24.79" height="18.71" fill="#f8c8ba" />
<rect x="1098.93" y="220.18" width="24.79" height="18.71" fill="#f6a992" />
<rect x="1123.31" y="220.18" width="24.79" height="18.71" fill="#f8c3b4" />
<rect x="977.00" y="238.48" width="24.79" height="18.71" fill="#f6ad98" />
<rect x="1001.39" y="238.48" width="24.79" height="18.71" fill="#f6ad98" />
<rect x="1025.77" y="238.48" width="24.79" height="18.71" fill="#f8c3b4" />
<rect x="1050.16" y="238.48" width="24.79" height="18.71" fill="#3756a6" />
<rect x="1074.54" y="238.48" width="24.79" height="18.71" fill="#e9e5ed" />
<rect x="1098.93" y="238.48" width="24.79" height="18.71" fill="#efebec" />
<rect x="1123.31" y="238.48" width="24.79" height="18.71" fill="#f9d6cd" />
<rect x="977.00" y="256.79" width="24.79" height="18.71" fill="#f6b29e" />
<rect x="1001.39" y="256.79" width="24.79" height="18.71" fill="#f39076" />
<rect x="1025.77" y="256.79" width="24.79" height="18.71" fill="#f8e0d9" />
<rect x="1050.16" y="256.79" width="24.79" height="18.71" fill="#3756a6" />
<rect x="1074.54" y="256.79" width="24.79" height="18.71" fill="#b4a2d2" />
<rect x="1098.93" y="256.79" width="24.79" height="18.71" fill="#f8c8ba" />
<rect x="1123.31" y="256.79" width="24.79" height="18.71" fill="#f8c8ba" />
<rect x="977.00" y="275.10" width="24.79" height="18.88" fill="#4055a7" />
<rect x="1001.39" y="275.10" width="24.79" height="18.88" fill="#c8b8dd" />
<rect x="1025.77" y="275.10" width="24.79" height="18.88" fill="#f7baa9" />
<rect x="1050.16" y="275.10" width="24.79" height="18.88" fill="#f4957c" />
<rect x="1074.54" y="275.10" width="24.79" height="18.88" fill="#f49b81" />
<rect x="1098.93" y="275.10" width="24.79" height="18.88" fill="#c8b8dd" />
<rect x="1123.31" y="275.10" width="24.79" height="18.88" fill="#f8c8ba" />
<rect x="977.00" y="293.58" width="24.79" height="18.88" fill="#5c56aa" />
<rect x="1001.39" y="293.58" width="24.79" height="18.88" fill="#beadd7" />
<rect x="1025.77" y="293.58" width="24.79" height="18.88" fill="#ee684d" />
<rect x="1050.16" y="293.58" width="24.79" height="18.88" fill="#f49b81" />
<rect x="1074.54" y="293.58" width="24.79" height="18.88" fill="#f6b29e" />
<rect x="1098.93" y="293.58" width="24.79" height="18.88" fill="#e2daea" />
<rect x="1123.31" y="293.58" width="24.79" height="18.88" fill="#c3b2da" />
<rect x="977.00" y="312.06" width="24.79" height="18.88" fill="#6d60ae" />
<rect x="1001.39" y="312.06" width="24.79" height="18.88" fill="#685dac" />
<rect x="1025.77" y="312.06" width="24.79" height="18.88" fill="#e6e0ec" />
<rect x="1050.16" y="312.06" width="24.79" height="18.88" fill="#f07b5f" />
<rect x="1074.54" y="312.06" width="24.79" height="18.88" fill="#f49b81" />
<rect x="1098.93" y="312.06" width="24.79" height="18.88" fill="#f8c8ba" />
<rect x="1123.31" y="312.06" width="24.79" height="18.88" fill="#f9d6cd" />
<rect x="977.00" y="330.54" width="24.79" height="18.88" fill="#8c78be" />
<rect x="1001.39" y="330.54" width="24.79" height="18.88" fill="#5c56aa" />
<rect x="1025.77" y="330.54" width="24.79" height="18.88" fill="#e6e0ec" />
<rect x="1050.16" y="330.54" width="24.79" height="18.88" fill="#f18065" />
<rect x="1074.54" y="330.54" width="24.79" height="18.88" fill="#f28b70" />
<rect x="1098.93" y="330.54" width="24.79" height="18.88" fill="#f8cdc0" />
<rect x="1123.31" y="330.54" width="24.79" height="18.88" fill="#eceaee" />
<rect x="977.00" y="349.02" width="24.79" height="18.88" fill="#a08cc8" />
<rect x="1001.39" y="349.02" width="24.79" height="18.88" fill="#beadd7" />
<rect x="1025.77" y="349.02" width="24.79" height="18.88" fill="#c3b2da" />
<rect x="1050.16" y="349.02" width="24.79" height="18.88" fill="#e61e24" />
<rect x="1074.54" y="349.02" width="24.79" height="18.88" fill="#f8c8ba" />
<rect x="1098.93" y="349.02" width="24.79" height="18.88" fill="#d7cae5" />
<rect x="1123.31" y="349.02" width="24.79" height="18.88" fill="#dcd0e8" />
<rect x="977.00" y="367.50" width="24.79" height="18.88" fill="#9682c3" />
<rect x="1001.39" y="367.50" width="24.79" height="18.88" fill="#8c78be" />
<rect x="1025.77" y="367.50" width="24.79" height="18.88" fill="#cdbee0" />
<rect x="1050.16" y="367.50" width="24.79" height="18.88" fill="#e72627" />
<rect x="1074.54" y="367.50" width="24.79" height="18.88" fill="#f7b6a3" />
<rect x="1098.93" y="367.50" width="24.79" height="18.88" fill="#f9d6cd" />
<rect x="1123.31" y="367.50" width="24.79" height="18.88" fill="#dcd0e8" />
<rect x="977.00" y="385.98" width="24.79" height="18.88" fill="#b9a7d5" />
<rect x="1001.39" y="385.98" width="24.79" height="18.88" fill="#f6e4df" />
<rect x="1025.77" y="385.98" width="24.79" height="18.88" fill="#ee684d" />
<rect x="1050.16" y="385.98" width="24.79" height="18.88" fill="#f4957c" />
<rect x="1074.54" y="385.98" width="24.79" height="18.88" fill="#f9d1c7" />
<rect x="1098.93" y="385.98" width="24.79" height="18.88" fill="#c3b2da" />
<rect x="1123.31" y="385.98" width="24.79" height="18.88" fill="#4454a8" />
<rect x="977.00" y="404.46" width="24.79" height="18.88" fill="#7364af" />
<rect x="1001.39" y="404.46" width="24.79" height="18.88" fill="#5c56aa" />
<rect x="1025.77" y="404.46" width="24.79" height="18.88" fill="#f6a992" />
<rect x="1050.16" y="404.46" width="24.79" height="18.88" fill="#f2ecea" />
<rect x="1074.54" y="404.46" width="24.79" height="18.88" fill="#f49b81" />
<rect x="1098.93" y="404.46" width="24.79" height="18.88" fill="#f5a087" />
<rect x="1123.31" y="404.46" width="24.79" height="18.88" fill="#f9dbd3" />
<rect x="977.00" y="422.94" width="24.79" height="18.88" fill="#9682c3" />
<rect x="1001.39" y="422.94" width="24.79" height="18.88" fill="#9b87c6" />
<rect x="1025.77" y="422.94" width="24.79" height="18.88" fill="#f2866b" />
<rect x="1050.16" y="422.94" width="24.79" height="18.88" fill="#8471b9" />
<rect x="1074.54" y="422.94" width="24.79" height="18.88" fill="#f28b70" />
<rect x="1098.93" y="422.94" width="24.79" height="18.88" fill="#f5a087" />
<rect x="1123.31" y="422.94" width="24.79" height="18.88" fill="#e2daea" />
<rect x="977.00" y="441.42" width="24.79" height="18.88" fill="#685dac" />
<rect x="1001.39" y="441.42" width="24.79" height="18.88" fill="#9682c3" />
<rect x="1025.77" y="441.42" width="24.79" height="18.88" fill="#f7baa9" />
<rect x="1050.16" y="441.42" width="24.79" height="18.88" fill="#c8b8dd" />
<rect x="1074.54" y="441.42" width="24.79" height="18.88" fill="#ed5e45" />
<rect x="1098.93" y="441.42" width="24.79" height="18.88" fill="#eceaee" />
<rect x="1123.31" y="441.42" width="24.79" height="18.88" fill="#f6ad98" />
<rect x="977.00" y="459.90" width="24.79" height="18.76" fill="#8c78be" />
<rect x="1001.39" y="459.90" width="24.79" height="18.76" fill="#685dac" />
<rect x="1025.77" y="459.90" width="24.79" height="18.76" fill="#e9e5ed" />
<rect x="1050.16" y="459.90" width="24.79" height="18.76" fill="#f0765a" />
<rect x="1074.54" y="459.90" width="24.79" height="18.76" fill="#dcd0e8" />
<rect x="1098.93" y="459.90" width="24.79" height="18.76" fill="#f6a992" />
<rect x="1123.31" y="459.90" width="24.79" height="18.76" fill="#f6a992" />
<rect x="977.00" y="478.26" width="24.79" height="18.76" fill="#6d60ae" />
<rect x="1001.39" y="478.26" width="24.79" height="18.76" fill="#7364af" />
<rect x="1025.77" y="478.26" width="24.79" height="18.76" fill="#e9e5ed" />
<rect x="1050.16" y="478.26" width="24.79" height="18.76" fill="#f0765a" />
<rect x="1074.54" y="478.26" width="24.79" height="18.76" fill="#eceaee" />
<rect x="1098.93" y="478.26" width="24.79" height="18.76" fill="#f6a992" />
<rect x="1123.31" y="478.26" width="24.79" height="18.76" fill="#f6aa94" />
<rect x="977.00" y="496.62" width="24.79" height="18.76" fill="#5c56aa" />
<rect x="1001.39" y="496.62" width="24.79" height="18.76" fill="#7b6bb4" />
<rect x="1025.77" y="496.62" width="24.79" height="18.76" fill="#f9d6cd" />
<rect x="1050.16" y="496.62" width="24.79" height="18.76" fill="#f0785c" />
<rect x="1074.54" y="496.62" width="24.79" height="18.76" fill="#eceaee" />
<rect x="1098.93" y="496.62" width="24.79" height="18.76" fill="#f6a790" />
<rect x="1123.31" y="496.62" width="24.79" height="18.76" fill="#f7baa9" />
<rect x="977.00" y="514.98" width="24.79" height="18.76" fill="#7364af" />
<rect x="1001.39" y="514.98" width="24.79" height="18.76" fill="#685dac" />
<rect x="1025.77" y="514.98" width="24.79" height="18.76" fill="#dcd0e8" />
<rect x="1050.16" y="514.98" width="24.79" height="18.76" fill="#f4957c" />
<rect x="1074.54" y="514.98" width="24.79" height="18.76" fill="#f8c3b4" />
<rect x="1098.93" y="514.98" width="24.79" height="18.76" fill="#f6aa94" />
<rect x="1123.31" y="514.98" width="24.79" height="18.76" fill="#f49b81" />
<rect x="977.00" y="533.34" width="24.79" height="18.76" fill="#6d60ae" />
<rect x="1001.39" y="533.34" width="24.79" height="18.76" fill="#6d60ae" />
<rect x="1025.77" y="533.34" width="24.79" height="18.76" fill="#dcd0e8" />
<rect x="1050.16" y="533.34" width="24.79" height="18.76" fill="#f28b70" />
<rect x="1074.54" y="533.34" width="24.79" height="18.76" fill="#f8c3b4" />
<rect x="1098.93" y="533.34" width="24.79" height="18.76" fill="#f6b29e" />
<rect x="1123.31" y="533.34" width="24.79" height="18.76" fill="#f49b81" />
<rect x="977.00" y="551.70" width="24.79" height="18.76" fill="#6d60ae" />
<rect x="1001.39" y="551.70" width="24.79" height="18.76" fill="#7364af" />
<rect x="1025.77" y="551.70" width="24.79" height="18.76" fill="#dcd0e8" />
<rect x="1050.16" y="551.70" width="24.79" height="18.76" fill="#f2866b" />
<rect x="1074.54" y="551.70" width="24.79" height="18.76" fill="#f8cdc0" />
<rect x="1098.93" y="551.70" width="24.79" height="18.76" fill="#f6aa94" />
<rect x="1123.31" y="551.70" width="24.79" height="18.76" fill="#f6a790" />
<rect x="977.00" y="570.06" width="24.79" height="18.76" fill="#806eb6" />
<rect x="1001.39" y="570.06" width="24.79" height="18.76" fill="#5c56aa" />
<rect x="1025.77" y="570.06" width="24.79" height="18.76" fill="#e1d8ea" />
<rect x="1050.16" y="570.06" width="24.79" height="18.76" fill="#f49b81" />
<rect x="1074.54" y="570.06" width="24.79" height="18.76" fill="#f8cdc0" />
<rect x="1098.93" y="570.06" width="24.79" height="18.76" fill="#f5a087" />
<rect x="1123.31" y="570.06" width="24.79" height="18.76" fill="#f6aa94" />
<rect x="977.00" y="588.42" width="24.79" height="18.76" fill="#6d60ae" />
<rect x="1001.39" y="588.42" width="24.79" height="18.76" fill="#8471b9" />
<rect x="1025.77" y="588.42" width="24.79" height="18.76" fill="#beadd7" />
<rect x="1050.16" y="588.42" width="24.79" height="18.76" fill="#f07b5f" />
<rect x="1074.54" y="588.42" width="24.79" height="18.76" fill="#f9d1c7" />
<rect x="1098.93" y="588.42" width="24.79" height="18.76" fill="#f5a087" />
<rect x="1123.31" y="588.42" width="24.79" height="18.76" fill="#f6a992" />
<rect x="977.00" y="606.78" width="24.79" height="18.76" fill="#7364af" />
<rect x="1001.39" y="606.78" width="24.79" height="18.76" fill="#7364af" />
<rect x="1025.77" y="606.78" width="24.79" height="18.76" fill="#d2c4e2" />
<rect x="1050.16" y="606.78" width="24.79" height="18.76" fill="#f4957c" />
<rect x="1074.54" y="606.78" width="24.79" height="18.76" fill="#f9ded7" />
<rect x="1098.93" y="606.78" width="24.79" height="18.76" fill="#f5a087" />
<rect x="1123.31" y="606.78" width="24.79" height="18.76" fill="#f49b81" />
<rect x="977.00" y="625.14" width="24.79" height="18.76" fill="#6d60ae" />
<rect x="1001.39" y="625.14" width="24.79" height="18.76" fill="#7364af" />
<rect x="1025.77" y="625.14" width="24.79" height="18.76" fill="#dacee7" />
<rect x="1050.16" y="625.14" width="24.79" height="18.76" fill="#f4957c" />
<rect x="1074.54" y="625.14" width="24.79" height="18.76" fill="#f5a48d" />
<rect x="1098.93" y="625.14" width="24.79" height="18.76" fill="#f8cdc0" />
<rect x="1123.31" y="625.14" width="24.79" height="18.76" fill="#f49b81" />
<rect x="977.00" y="643.50" width="24.79" height="18.78" fill="#a08cc8" />
<rect x="1001.39" y="643.50" width="24.79" height="18.78" fill="#7364af" />
<rect x="1025.77" y="643.50" width="24.79" height="18.78" fill="#c3b2da" />
<rect x="1050.16" y="643.50" width="24.79" height="18.78" fill="#f6b29e" />
<rect x="1074.54" y="643.50" width="24.79" height="18.78" fill="#d2c4e2" />
<rect x="1098.93" y="643.50" width="24.79" height="18.78" fill="#f07b5f" />
<rect x="1123.31" y="643.50" width="24.79" height="18.78" fill="#f07b5f" />
<rect x="977.00" y="661.88" width="24.79" height="18.78" fill="#917dc0" />
<rect x="1001.39" y="661.88" width="24.79" height="18.78" fill="#7364af" />
<rect x="1025.77" y="661.88" width="24.79" height="18.78" fill="#c3b2da" />
<rect x="1050.16" y="661.88" width="24.79" height="18.78" fill="#ee684d" />
<rect x="1074.54" y="661.88" width="24.79" height="18.78" fill="#d7cae5" />
<rect x="1098.93" y="661.88" width="24.79" height="18.78" fill="#f49b81" />
<rect x="1123.31" y="661.88" width="24.79" height="18.78" fill="#f5a087" />
<rect x="977.00" y="680.26" width="24.79" height="18.78" fill="#7b6bb4" />
<rect x="1001.39" y="680.26" width="24.79" height="18.78" fill="#685dac" />
<rect x="1025.77" y="680.26" width="24.79" height="18.78" fill="#d7cae5" />
<rect x="1050.16" y="680.26" width="24.79" height="18.78" fill="#f49b81" />
<rect x="1074.54" y="680.26" width="24.79" height="18.78" fill="#eceaee" />
<rect x="1098.93" y="680.26" width="24.79" height="18.78" fill="#f4957c" />
<rect x="1123.31" y="680.26" width="24.79" height="18.78" fill="#f49b81" />
<rect x="977.00" y="698.64" width="24.79" height="18.78" fill="#8c78be" />
<rect x="1001.39" y="698.64" width="24.79" height="18.78" fill="#685dac" />
<rect x="1025.77" y="698.64" width="24.79" height="18.78" fill="#e6e0ec" />
<rect x="1050.16" y="698.64" width="24.79" height="18.78" fill="#ea4535" />
<rect x="1074.54" y="698.64" width="24.79" height="18.78" fill="#f9dbd3" />
<rect x="1098.93" y="698.64" width="24.79" height="18.78" fill="#f9d1c7" />
<rect x="1123.31" y="698.64" width="24.79" height="18.78" fill="#f8c8ba" />
<rect x="977.00" y="717.02" width="24.79" height="18.78" fill="#6d60ae" />
<rect x="1001.39" y="717.02" width="24.79" height="18.78" fill="#8c78be" />
<rect x="1025.77" y="717.02" width="24.79" height="18.78" fill="#c3b2da" />
<rect x="1050.16" y="717.02" width="24.79" height="18.78" fill="#ee684d" />
<rect x="1074.54" y="717.02" width="24.79" height="18.78" fill="#f9d6cd" />
<rect x="1098.93" y="717.02" width="24.79" height="18.78" fill="#f7b6a3" />
<rect x="1123.31" y="717.02" width="24.79" height="18.78" fill="#f6b29e" />
<rect x="977.00" y="735.40" width="24.79" height="18.78" fill="#7364af" />
<rect x="1001.39" y="735.40" width="24.79" height="18.78" fill="#7767b2" />
<rect x="1025.77" y="735.40" width="24.79" height="18.78" fill="#d2c4e2" />
<rect x="1050.16" y="735.40" width="24.79" height="18.78" fill="#ee684d" />
<rect x="1074.54" y="735.40" width="24.79" height="18.78" fill="#f9ded7" />
<rect x="1098.93" y="735.40" width="24.79" height="18.78" fill="#f49b81" />
<rect x="1123.31" y="735.40" width="24.79" height="18.78" fill="#f8c8ba" />
<rect x="977.00" y="753.78" width="24.79" height="18.78" fill="#a591cb" />
<rect x="1001.39" y="753.78" width="24.79" height="18.78" fill="#9682c3" />
<rect x="1025.77" y="753.78" width="24.79" height="18.78" fill="#a591cb" />
<rect x="1050.16" y="753.78" width="24.79" height="18.78" fill="#ee684d" />
<rect x="1074.54" y="753.78" width="24.79" height="18.78" fill="#c3b2da" />
<rect x="1098.93" y="753.78" width="24.79" height="18.78" fill="#f6b29e" />
<rect x="1123.31" y="753.78" width="24.79" height="18.78" fill="#f49b81" />
<rect x="977.00" y="772.16" width="24.79" height="18.78" fill="#7364af" />
<rect x="1001.39" y="772.16" width="24.79" height="18.78" fill="#a591cb" />
<rect x="1025.77" y="772.16" width="24.79" height="18.78" fill="#d2c4e2" />
<rect x="1050.16" y="772.16" width="24.79" height="18.78" fill="#ea4535" />
<rect x="1074.54" y="772.16" width="24.79" height="18.78" fill="#c3b2da" />
<rect x="1098.93" y="772.16" width="24.79" height="18.78" fill="#f6b29e" />
<rect x="1123.31" y="772.16" width="24.79" height="18.78" fill="#f8c3b4" />
<rect x="977.00" y="790.54" width="24.79" height="18.78" fill="#e2daea" />
<rect x="1001.39" y="790.54" width="24.79" height="18.78" fill="#7b6bb4" />
<rect x="1025.77" y="790.54" width="24.79" height="18.78" fill="#8c78be" />
<rect x="1050.16" y="790.54" width="24.79" height="18.78" fill="#f5e6e2" />
<rect x="1074.54" y="790.54" width="24.79" height="18.78" fill="#ddd2e8" />
<rect x="1098.93" y="790.54" width="24.79" height="18.78" fill="#f49b81" />
<rect x="1123.31" y="790.54" width="24.79" height="18.78" fill="#ea4535" />
<rect x="977.00" y="808.92" width="24.79" height="18.78" fill="#7767b2" />
<rect x="1001.39" y="808.92" width="24.79" height="18.78" fill="#e9e5ed" />
<rect x="1025.77" y="808.92" width="24.79" height="18.78" fill="#e1d8ea" />
<rect x="1050.16" y="808.92" width="24.79" height="18.78" fill="#a591cb" />
<rect x="1074.54" y="808.92" width="24.79" height="18.78" fill="#cdbee0" />
<rect x="1098.93" y="808.92" width="24.79" height="18.78" fill="#f5a087" />
<rect x="1123.31" y="808.92" width="24.79" height="18.78" fill="#e72627" />
<rect x="977.00" y="827.30" width="24.79" height="18.80" fill="#f8c3b4" />
<rect x="1001.39" y="827.30" width="24.79" height="18.80" fill="#f7b6a3" />
<rect x="1025.77" y="827.30" width="24.79" height="18.80" fill="#f39076" />
<rect x="1050.16" y="827.30" width="24.79" height="18.80" fill="#f7baa9" />
<rect x="1074.54" y="827.30" width="24.79" height="18.80" fill="#f9dbd3" />
<rect x="1098.93" y="827.30" width="24.79" height="18.80" fill="#8c78be" />
<rect x="1123.31" y="827.30" width="24.79" height="18.80" fill="#4854a8" />
<rect x="977.00" y="845.70" width="24.79" height="18.80" fill="#f6a992" />
<rect x="1001.39" y="845.70" width="24.79" height="18.80" fill="#f49b81" />
<rect x="1025.77" y="845.70" width="24.79" height="18.80" fill="#eb4d39" />
<rect x="1050.16" y="845.70" width="24.79" height="18.80" fill="#a08cc8" />
<rect x="1074.54" y="845.70" width="24.79" height="18.80" fill="#c3b2da" />
<rect x="1098.93" y="845.70" width="24.79" height="18.80" fill="#af9cd0" />
<rect x="1123.31" y="845.70" width="24.79" height="18.80" fill="#917dc0" />
<rect x="977.00" y="864.10" width="24.79" height="18.80" fill="#f6b29e" />
<rect x="1001.39" y="864.10" width="24.79" height="18.80" fill="#f49b81" />
<rect x="1025.77" y="864.10" width="24.79" height="18.80" fill="#eb4d39" />
<rect x="1050.16" y="864.10" width="24.79" height="18.80" fill="#a08cc8" />
<rect x="1074.54" y="864.10" width="24.79" height="18.80" fill="#af9cd0" />
<rect x="1098.93" y="864.10" width="24.79" height="18.80" fill="#b4a2d2" />
<rect x="1123.31" y="864.10" width="24.79" height="18.80" fill="#a08cc8" />
<rect x="977.00" y="882.50" width="24.79" height="18.80" fill="#f5a087" />
<rect x="1001.39" y="882.50" width="24.79" height="18.80" fill="#f0765a" />
<rect x="1025.77" y="882.50" width="24.79" height="18.80" fill="#f28b70" />
<rect x="1050.16" y="882.50" width="24.79" height="18.80" fill="#b4a2d2" />
<rect x="1074.54" y="882.50" width="24.79" height="18.80" fill="#a08cc8" />
<rect x="1098.93" y="882.50" width="24.79" height="18.80" fill="#beadd7" />
<rect x="1123.31" y="882.50" width="24.79" height="18.80" fill="#8471b9" />
<rect x="977.00" y="900.90" width="24.79" height="18.80" fill="#f2866b" />
<rect x="1001.39" y="900.90" width="24.79" height="18.80" fill="#f2866b" />
<rect x="1025.77" y="900.90" width="24.79" height="18.80" fill="#f49b81" />
<rect x="1050.16" y="900.90" width="24.79" height="18.80" fill="#7364af" />
<rect x="1074.54" y="900.90" width="24.79" height="18.80" fill="#c3b2da" />
<rect x="1098.93" y="900.90" width="24.79" height="18.80" fill="#beadd7" />
<rect x="1123.31" y="900.90" width="24.79" height="18.80" fill="#a08cc8" />
<rect x="977.00" y="919.30" width="24.79" height="18.80" fill="#f28b70" />
<rect x="1001.39" y="919.30" width="24.79" height="18.80" fill="#f28b70" />
<rect x="1025.77" y="919.30" width="24.79" height="18.80" fill="#c3b2da" />
<rect x="1050.16" y="919.30" width="24.79" height="18.80" fill="#f49b81" />
<rect x="1074.54" y="919.30" width="24.79" height="18.80" fill="#7364af" />
<rect x="1098.93" y="919.30" width="24.79" height="18.80" fill="#beadd7" />
<rect x="1123.31" y="919.30" width="24.79" height="18.80" fill="#a591cb" />
<rect x="977.00" y="937.70" width="24.79" height="18.80" fill="#f28b70" />
<rect x="1001.39" y="937.70" width="24.79" height="18.80" fill="#f28b70" />
<rect x="1025.77" y="937.70" width="24.79" height="18.80" fill="#f9d1c7" />
<rect x="1050.16" y="937.70" width="24.79" height="18.80" fill="#f7baa9" />
<rect x="1074.54" y="937.70" width="24.79" height="18.80" fill="#b9a7d5" />
<rect x="1098.93" y="937.70" width="24.79" height="18.80" fill="#7364af" />
<rect x="1123.31" y="937.70" width="24.79" height="18.80" fill="#7b6bb4" />
<rect x="977.00" y="956.10" width="24.79" height="18.80" fill="#f49b81" />
<rect x="1001.39" y="956.10" width="24.79" height="18.80" fill="#f0785c" />
<rect x="1025.77" y="956.10" width="24.79" height="18.80" fill="#f7b6a3" />
<rect x="1050.16" y="956.10" width="24.79" height="18.80" fill="#e6e0ec" />
<rect x="1074.54" y="956.10" width="24.79" height="18.80" fill="#8c78be" />
<rect x="1098.93" y="956.10" width="24.79" height="18.80" fill="#efebec" />
<rect x="1123.31" y="956.10" width="24.79" height="18.80" fill="#5c56aa" />
<rect x="977.00" y="974.50" width="24.79" height="18.80" fill="#f49b81" />
<rect x="1001.39" y="974.50" width="24.79" height="18.80" fill="#f0785c" />
<rect x="1025.77" y="974.50" width="24.79" height="18.80" fill="#f5a48d" />
<rect x="1050.16" y="974.50" width="24.79" height="18.80" fill="#cdbee0" />
<rect x="1074.54" y="974.50" width="24.79" height="18.80" fill="#4d54a8" />
<rect x="1098.93" y="974.50" width="24.79" height="18.80" fill="#dcd0e8" />
<rect x="1123.31" y="974.50" width="24.79" height="18.80" fill="#cdbee0" />
<rect x="977.00" y="992.90" width="24.79" height="18.80" fill="#eb4d39" />
<rect x="1001.39" y="992.90" width="24.79" height="18.80" fill="#ee6349" />
<rect x="1025.77" y="992.90" width="24.79" height="18.80" fill="#e8e3ec" />
<rect x="1050.16" y="992.90" width="24.79" height="18.80" fill="#c3b2da" />
<rect x="1074.54" y="992.90" width="24.79" height="18.80" fill="#a08cc8" />
<rect x="1098.93" y="992.90" width="24.79" height="18.80" fill="#b9a7d5" />
<rect x="1123.31" y="992.90" width="24.79" height="18.80" fill="#9b87c6" />
<rect x="977.00" y="1011.30" width="24.79" height="18.83" fill="#f5a087" />
<rect x="1001.39" y="1011.30" width="24.79" height="18.83" fill="#ee684d" />
<rect x="1025.77" y="1011.30" width="24.79" height="18.83" fill="#eceaee" />
<rect x="1050.16" y="1011.30" width="24.79" height="18.83" fill="#f6a992" />
<rect x="1074.54" y="1011.30" width="24.79" height="18.83" fill="#8471b9" />
<rect x="1098.93" y="1011.30" width="24.79" height="18.83" fill="#c8b8dd" />
<rect x="1123.31" y="1011.30" width="24.79" height="18.83" fill="#7b6bb4" />
<rect x="977.00" y="1029.73" width="24.79" height="18.83" fill="#f49b81" />
<rect x="1001.39" y="1029.73" width="24.79" height="18.83" fill="#f2866b" />
<rect x="1025.77" y="1029.73" width="24.79" height="18.83" fill="#c3b2da" />
<rect x="1050.16" y="1029.73" width="24.79" height="18.83" fill="#f38d73" />
<rect x="1074.54" y="1029.73" width="24.79" height="18.83" fill="#7364af" />
<rect x="1098.93" y="1029.73" width="24.79" height="18.83" fill="#a591cb" />
<rect x="1123.31" y="1029.73" width="24.79" height="18.83" fill="#dcd0e8" />
<rect x="977.00" y="1048.16" width="24.79" height="18.83" fill="#ed5e45" />
<rect x="1001.39" y="1048.16" width="24.79" height="18.83" fill="#f07b5f" />
<rect x="1025.77" y="1048.16" width="24.79" height="18.83" fill="#f8cfc3" />
<rect x="1050.16" y="1048.16" width="24.79" height="18.83" fill="#c3b2da" />
<rect x="1074.54" y="1048.16" width="24.79" height="18.83" fill="#cabade" />
<rect x="1098.93" y="1048.16" width="24.79" height="18.83" fill="#917dc0" />
<rect x="1123.31" y="1048.16" width="24.79" height="18.83" fill="#917dc0" />
<rect x="977.00" y="1066.59" width="24.79" height="18.83" fill="#f0785c" />
<rect x="1001.39" y="1066.59" width="24.79" height="18.83" fill="#ec553c" />
<rect x="1025.77" y="1066.59" width="24.79" height="18.83" fill="#eeebed" />
<rect x="1050.16" y="1066.59" width="24.79" height="18.83" fill="#dcd0e8" />
<rect x="1074.54" y="1066.59" width="24.79" height="18.83" fill="#cabade" />
<rect x="1098.93" y="1066.59" width="24.79" height="18.83" fill="#a591cb" />
<rect x="1123.31" y="1066.59" width="24.79" height="18.83" fill="#7b6bb4" />
<rect x="977.00" y="1085.02" width="24.79" height="18.83" fill="#f49b81" />
<rect x="1001.39" y="1085.02" width="24.79" height="18.83" fill="#ec553c" />
<rect x="1025.77" y="1085.02" width="24.79" height="18.83" fill="#f6a992" />
<rect x="1050.16" y="1085.02" width="24.79" height="18.83" fill="#b9a7d5" />
<rect x="1074.54" y="1085.02" width="24.79" height="18.83" fill="#af9cd0" />
<rect x="1098.93" y="1085.02" width="24.79" height="18.83" fill="#a591cb" />
<rect x="1123.31" y="1085.02" width="24.79" height="18.83" fill="#917dc0" />
<rect x="977.00" y="1103.45" width="24.79" height="18.83" fill="#f28b70" />
<rect x="1001.39" y="1103.45" width="24.79" height="18.83" fill="#ed5a40" />
<rect x="1025.77" y="1103.45" width="24.79" height="18.83" fill="#f9d1c7" />
<rect x="1050.16" y="1103.45" width="24.79" height="18.83" fill="#7364af" />
<rect x="1074.54" y="1103.45" width="24.79" height="18.83" fill="#ddd2e8" />
<rect x="1098.93" y="1103.45" width="24.79" height="18.83" fill="#cabade" />
<rect x="1123.31" y="1103.45" width="24.79" height="18.83" fill="#917dc0" />
<rect x="977.00" y="1121.88" width="24.79" height="18.83" fill="#ec553c" />
<rect x="1001.39" y="1121.88" width="24.79" height="18.83" fill="#f0785c" />
<rect x="1025.77" y="1121.88" width="24.79" height="18.83" fill="#e6e0ec" />
<rect x="1050.16" y="1121.88" width="24.79" height="18.83" fill="#9b87c6" />
<rect x="1074.54" y="1121.88" width="24.79" height="18.83" fill="#8875bc" />
<rect x="1098.93" y="1121.88" width="24.79" height="18.83" fill="#dfd5e9" />
<rect x="1123.31" y="1121.88" width="24.79" height="18.83" fill="#c3b2da" />
<rect x="977.00" y="1140.31" width="24.79" height="18.83" fill="#ec553c" />
<rect x="1001.39" y="1140.31" width="24.79" height="18.83" fill="#f0785c" />
<rect x="1025.77" y="1140.31" width="24.79" height="18.83" fill="#c3b2da" />
<rect x="1050.16" y="1140.31" width="24.79" height="18.83" fill="#9b87c6" />
<rect x="1074.54" y="1140.31" width="24.79" height="18.83" fill="#9b87c6" />
<rect x="1098.93" y="1140.31" width="24.79" height="18.83" fill="#dacee7" />
<rect x="1123.31" y="1140.31" width="24.79" height="18.83" fill="#e9e5ed" />
<rect x="977.00" y="1158.74" width="24.79" height="18.83" fill="#f07b5f" />
<rect x="1001.39" y="1158.74" width="24.79" height="18.83" fill="#ee684d" />
<rect x="1025.77" y="1158.74" width="24.79" height="18.83" fill="#eeebed" />
<rect x="1050.16" y="1158.74" width="24.79" height="18.83" fill="#7364af" />
<rect x="1074.54" y="1158.74" width="24.79" height="18.83" fill="#8c78be" />
<rect x="1098.93" y="1158.74" width="24.79" height="18.83" fill="#e1d8ea" />
<rect x="1123.31" y="1158.74" width="24.79" height="18.83" fill="#eae7ed" />
<rect x="977.00" y="1177.17" width="24.79" height="18.83" fill="#eb4d39" />
<rect x="1001.39" y="1177.17" width="24.79" height="18.83" fill="#f17e63" />
<rect x="1025.77" y="1177.17" width="24.79" height="18.83" fill="#9b87c6" />
<rect x="1050.16" y="1177.17" width="24.79" height="18.83" fill="#dfd5e9" />
<rect x="1074.54" y="1177.17" width="24.79" height="18.83" fill="#8c78be" />
<rect x="1098.93" y="1177.17" width="24.79" height="18.83" fill="#d2c4e2" />
<rect x="1123.31" y="1177.17" width="24.79" height="18.83" fill="#e1d8ea" />
<rect x="977.00" y="1195.60" width="24.79" height="19.15" fill="#f5a087" />
<rect x="1001.39" y="1195.60" width="24.79" height="19.15" fill="#f9d1c7" />
<rect x="1025.77" y="1195.60" width="24.79" height="19.15" fill="#d7cae5" />
<rect x="1050.16" y="1195.60" width="24.79" height="19.15" fill="#ee684d" />
<rect x="1074.54" y="1195.60" width="24.79" height="19.15" fill="#4d54a8" />
<rect x="1098.93" y="1195.60" width="24.79" height="19.15" fill="#c3b2da" />
<rect x="1123.31" y="1195.60" width="24.79" height="19.15" fill="#eceaee" />
<rect x="977.00" y="1214.35" width="24.79" height="19.15" fill="#d2c4e2" />
<rect x="1001.39" y="1214.35" width="24.79" height="19.15" fill="#f9ded7" />
<rect x="1025.77" y="1214.35" width="24.79" height="19.15" fill="#a08cc8" />
<rect x="1050.16" y="1214.35" width="24.79" height="19.15" fill="#f9d1c7" />
<rect x="1074.54" y="1214.35" width="24.79" height="19.15" fill="#5c56aa" />
<rect x="1098.93" y="1214.35" width="24.79" height="19.15" fill="#ef6d52" />
<rect x="1123.31" y="1214.35" width="24.79" height="19.15" fill="#f0785c" />
<rect x="977.00" y="1233.10" width="24.79" height="19.15" fill="#f9ded7" />
<rect x="1001.39" y="1233.10" width="24.79" height="19.15" fill="#e9e5ed" />
<rect x="1025.77" y="1233.10" width="24.79" height="19.15" fill="#9682c3" />
<rect x="1050.16" y="1233.10" width="24.79" height="19.15" fill="#f0785c" />
<rect x="1074.54" y="1233.10" width="24.79" height="19.15" fill="#5255a9" />
<rect x="1098.93" y="1233.10" width="24.79" height="19.15" fill="#f9d6cd" />
<rect x="1123.31" y="1233.10" width="24.79" height="19.15" fill="#f17e63" />
<rect x="977.00" y="1251.85" width="24.79" height="19.15" fill="#f7baa9" />
<rect x="1001.39" y="1251.85" width="24.79" height="19.15" fill="#f28b70" />
<rect x="1025.77" y="1251.85" width="24.79" height="19.15" fill="#c8b8dd" />
<rect x="1050.16" y="1251.85" width="24.79" height="19.15" fill="#af9cd0" />
<rect x="1074.54" y="1251.85" width="24.79" height="19.15" fill="#5255a9" />
<rect x="1098.93" y="1251.85" width="24.79" height="19.15" fill="#f7baa9" />
<rect x="1123.31" y="1251.85" width="24.79" height="19.15" fill="#f28b70" />
<rect x="977.00" y="1270.60" width="24.79" height="19.15" fill="#f6a992" />
<rect x="1001.39" y="1270.60" width="24.79" height="19.15" fill="#f5a087" />
<rect x="1025.77" y="1270.60" width="24.79" height="19.15" fill="#cdbee0" />
<rect x="1050.16" y="1270.60" width="24.79" height="19.15" fill="#e1d8ea" />
<rect x="1074.54" y="1270.60" width="24.79" height="19.15" fill="#4055a7" />
<rect x="1098.93" y="1270.60" width="24.79" height="19.15" fill="#f28b70" />
<rect x="1123.31" y="1270.60" width="24.79" height="19.15" fill="#e9e5ed" />
<rect x="977.00" y="1289.35" width="24.79" height="19.15" fill="#f7baa9" />
<rect x="1001.39" y="1289.35" width="24.79" height="19.15" fill="#f38d73" />
<rect x="1025.77" y="1289.35" width="24.79" height="19.15" fill="#beadd7" />
<rect x="1050.16" y="1289.35" width="24.79" height="19.15" fill="#f8c3b4" />
<rect x="1074.54" y="1289.35" width="24.79" height="19.15" fill="#4055a7" />
<rect x="1098.93" y="1289.35" width="24.79" height="19.15" fill="#f7baa9" />
<rect x="1123.31" y="1289.35" width="24.79" height="19.15" fill="#f7e1db" />
<rect x="977.00" y="1308.10" width="24.79" height="19.15" fill="#f9d1c7" />
<rect x="1001.39" y="1308.10" width="24.79" height="19.15" fill="#f49b81" />
<rect x="1025.77" y="1308.10" width="24.79" height="19.15" fill="#4854a8" />
<rect x="1050.16" y="1308.10" width="24.79" height="19.15" fill="#f9d1c7" />
<rect x="1074.54" y="1308.10" width="24.79" height="19.15" fill="#dacee7" />
<rect x="1098.93" y="1308.10" width="24.79" height="19.15" fill="#f07b5f" />
<rect x="1123.31" y="1308.10" width="24.79" height="19.15" fill="#aa97cd" />
<rect x="977.00" y="1326.85" width="24.79" height="19.15" fill="#f49b81" />
<rect x="1001.39" y="1326.85" width="24.79" height="19.15" fill="#f5a087" />
<rect x="1025.77" y="1326.85" width="24.79" height="19.15" fill="#f6e4df" />
<rect x="1050.16" y="1326.85" width="24.79" height="19.15" fill="#4055a7" />
<rect x="1074.54" y="1326.85" width="24.79" height="19.15" fill="#a08cc8" />
<rect x="1098.93" y="1326.85" width="24.79" height="19.15" fill="#f8c3b4" />
<rect x="1123.31" y="1326.85" width="24.79" height="19.15" fill="#f6b29e" />
<rect x="977.00" y="1345.60" width="24.79" height="19.15" fill="#f4957c" />
<rect x="1001.39" y="1345.60" width="24.79" height="19.15" fill="#f5a087" />
<rect x="1025.77" y="1345.60" width="24.79" height="19.15" fill="#917dc0" />
<rect x="1050.16" y="1345.60" width="24.79" height="19.15" fill="#7364af" />
<rect x="1074.54" y="1345.60" width="24.79" height="19.15" fill="#b9a7d5" />
<rect x="1098.93" y="1345.60" width="24.79" height="19.15" fill="#f3eae7" />
<rect x="1123.31" y="1345.60" width="24.79" height="19.15" fill="#f17e63" />
<rect x="977.00" y="1364.35" width="24.79" height="19.15" fill="#f0765a" />
<rect x="1001.39" y="1364.35" width="24.79" height="19.15" fill="#f5a087" />
<rect x="1025.77" y="1364.35" width="24.79" height="19.15" fill="#d7cae5" />
<rect x="1050.16" y="1364.35" width="24.79" height="19.15" fill="#7364af" />
<rect x="1074.54" y="1364.35" width="24.79" height="19.15" fill="#9b87c6" />
<rect x="1098.93" y="1364.35" width="24.79" height="19.15" fill="#c8b8dd" />
<rect x="1123.31" y="1364.35" width="24.79" height="19.15" fill="#f5a087" />
</g>
<rect x="943.40" y="55.40" width="27.60" height="220.00" fill="#c9aed5" shape-rendering="crispEdges"/>
<rect x="943.40" y="275.10" width="27.60" height="185.10" fill="#f5821f" shape-rendering="crispEdges"/>
<rect x="943.40" y="459.90" width="27.60" height="183.90" fill="#e31d24" shape-rendering="crispEdges"/>
<rect x="943.40" y="643.50" width="27.60" height="184.10" fill="#f59b9b" shape-rendering="crispEdges"/>
<rect x="943.40" y="827.30" width="27.60" height="184.30" fill="#a6cee3" shape-rendering="crispEdges"/>
<rect x="943.40" y="1011.30" width="27.60" height="184.60" fill="#1f78b4" shape-rendering="crispEdges"/>
<rect x="943.40" y="1195.60" width="27.60" height="187.80" fill="#b2da8a" shape-rendering="crispEdges"/>
<rect x="977.00" y="55.40" width="48.77" height="219.70" fill="none" stroke="#141414" stroke-width="1.5"/>
<rect x="1025.77" y="55.40" width="73.16" height="219.70" fill="none" stroke="#141414" stroke-width="1.5"/>
<rect x="1098.93" y="55.40" width="48.77" height="219.70" fill="none" stroke="#141414" stroke-width="1.5"/>
<rect x="977.00" y="275.10" width="48.77" height="184.80" fill="none" stroke="#141414" stroke-width="1.5"/>
<rect x="1025.77" y="275.10" width="73.16" height="184.80" fill="none" stroke="#141414" stroke-width="1.5"/>
<rect x="1098.93" y="275.10" width="48.77" height="184.80" fill="none" stroke="#141414" stroke-width="1.5"/>
<rect x="977.00" y="459.90" width="48.77" height="183.60" fill="none" stroke="#141414" stroke-width="1.5"/>
<rect x="1025.77" y="459.90" width="73.16" height="183.60" fill="none" stroke="#141414" stroke-width="1.5"/>
<rect x="1098.93" y="459.90" width="48.77" height="183.60" fill="none" stroke="#141414" stroke-width="1.5"/>
<rect x="977.00" y="643.50" width="48.77" height="183.80" fill="none" stroke="#141414" stroke-width="1.5"/>
<rect x="1025.77" y="643.50" width="73.16" height="183.80" fill="none" stroke="#141414" stroke-width="1.5"/>
<rect x="1098.93" y="643.50" width="48.77" height="183.80" fill="none" stroke="#141414" stroke-width="1.5"/>
<rect x="977.00" y="827.30" width="48.77" height="184.00" fill="none" stroke="#141414" stroke-width="1.5"/>
<rect x="1025.77" y="827.30" width="73.16" height="184.00" fill="none" stroke="#141414" stroke-width="1.5"/>
<rect x="1098.93" y="827.30" width="48.77" height="184.00" fill="none" stroke="#141414" stroke-width="1.5"/>
<rect x="977.00" y="1011.30" width="48.77" height="184.30" fill="none" stroke="#141414" stroke-width="1.5"/>
<rect x="1025.77" y="1011.30" width="73.16" height="184.30" fill="none" stroke="#141414" stroke-width="1.5"/>
<rect x="1098.93" y="1011.30" width="48.77" height="184.30" fill="none" stroke="#141414" stroke-width="1.5"/>
<rect x="977.00" y="1195.60" width="48.77" height="187.50" fill="none" stroke="#141414" stroke-width="1.5"/>
<rect x="1025.77" y="1195.60" width="73.16" height="187.50" fill="none" stroke="#141414" stroke-width="1.5"/>
<rect x="1098.93" y="1195.60" width="48.77" height="187.50" fill="none" stroke="#141414" stroke-width="1.5"/>
<text x="970.0" y="39.9" font-size="25.8" text-anchor="start" fill="#000" textLength="61.2" lengthAdjust="spacingAndGlyphs" >sham</text>
<text x="1037.2" y="39.9" font-size="25.8" text-anchor="start" fill="#000" textLength="48.6" lengthAdjust="spacingAndGlyphs" >CLP</text>
<text x="1099.5" y="39.9" font-size="25.8" text-anchor="start" fill="#000" textLength="47.0" lengthAdjust="spacingAndGlyphs" >LPS</text>
<text x="1152.4" y="71.6" font-size="18" text-anchor="start" fill="#000" transform="translate(1152.4,0) scale(1.09,1) translate(-1152.4,0)">Mmp19</text>
<text x="1152.4" y="89.9" font-size="18" text-anchor="start" fill="#000" transform="translate(1152.4,0) scale(1.09,1) translate(-1152.4,0)">Mmp27</text>
<text x="1152.4" y="108.2" font-size="18" text-anchor="start" fill="#000" transform="translate(1152.4,0) scale(1.09,1) translate(-1152.4,0)">Mmp14</text>
<text x="1152.4" y="126.5" font-size="18" text-anchor="start" fill="#000" transform="translate(1152.4,0) scale(1.09,1) translate(-1152.4,0)">Mmp3</text>
<text x="1152.4" y="144.8" font-size="18" text-anchor="start" fill="#000" transform="translate(1152.4,0) scale(1.09,1) translate(-1152.4,0)">Mmp2</text>
<text x="1152.4" y="163.1" font-size="18" text-anchor="start" fill="#000" transform="translate(1152.4,0) scale(1.09,1) translate(-1152.4,0)">Mmp8</text>
<text x="1152.4" y="181.4" font-size="18" text-anchor="start" fill="#000" transform="translate(1152.4,0) scale(1.09,1) translate(-1152.4,0)">Mmp9</text>
<text x="1152.4" y="199.7" font-size="18" text-anchor="start" fill="#000" transform="translate(1152.4,0) scale(1.09,1) translate(-1152.4,0)">Mmp23</text>
<text x="1152.4" y="218.0" font-size="18" text-anchor="start" fill="#000" transform="translate(1152.4,0) scale(1.09,1) translate(-1152.4,0)">Mmp17</text>
<text x="1152.4" y="236.3" font-size="18" text-anchor="start" fill="#000" transform="translate(1152.4,0) scale(1.09,1) translate(-1152.4,0)">Mmp28</text>
<text x="1152.4" y="254.6" font-size="18" text-anchor="start" fill="#000" transform="translate(1152.4,0) scale(1.09,1) translate(-1152.4,0)">Mmp11</text>
<text x="1152.4" y="272.9" font-size="18" text-anchor="start" fill="#000" transform="translate(1152.4,0) scale(1.09,1) translate(-1152.4,0)">Mmp15</text>
<text x="1152.4" y="291.3" font-size="18" text-anchor="start" fill="#000" transform="translate(1152.4,0) scale(1.09,1) translate(-1152.4,0)">Tacc2</text>
<text x="1152.4" y="309.8" font-size="18" text-anchor="start" fill="#000" transform="translate(1152.4,0) scale(1.09,1) translate(-1152.4,0)">Gnmt</text>
<text x="1152.4" y="328.3" font-size="18" text-anchor="start" fill="#000" transform="translate(1152.4,0) scale(1.09,1) translate(-1152.4,0)">Ctsl</text>
<text x="1152.4" y="346.8" font-size="18" text-anchor="start" fill="#000" transform="translate(1152.4,0) scale(1.09,1) translate(-1152.4,0)">Grrp1</text>
<text x="1152.4" y="365.3" font-size="18" text-anchor="start" fill="#000" transform="translate(1152.4,0) scale(1.09,1) translate(-1152.4,0)">Inhbb</text>
<text x="1152.4" y="383.7" font-size="18" text-anchor="start" fill="#000" transform="translate(1152.4,0) scale(1.09,1) translate(-1152.4,0)">Junb</text>
<text x="1152.4" y="402.2" font-size="18" text-anchor="start" fill="#000" transform="translate(1152.4,0) scale(1.09,1) translate(-1152.4,0)">Fstl4</text>
<text x="1152.4" y="420.7" font-size="18" text-anchor="start" fill="#000" transform="translate(1152.4,0) scale(1.09,1) translate(-1152.4,0)">Sult1a1</text>
<text x="1152.4" y="439.2" font-size="18" text-anchor="start" fill="#000" transform="translate(1152.4,0) scale(1.09,1) translate(-1152.4,0)">Pbld1</text>
<text x="1152.4" y="457.7" font-size="18" text-anchor="start" fill="#000" transform="translate(1152.4,0) scale(1.09,1) translate(-1152.4,0)">Rorc</text>
<text x="1152.4" y="476.1" font-size="18" text-anchor="start" fill="#000" transform="translate(1152.4,0) scale(1.09,1) translate(-1152.4,0)">Chil3</text>
<text x="1152.4" y="494.4" font-size="18" text-anchor="start" fill="#000" transform="translate(1152.4,0) scale(1.09,1) translate(-1152.4,0)">Acp5</text>
<text x="1152.4" y="512.8" font-size="18" text-anchor="start" fill="#000" transform="translate(1152.4,0) scale(1.09,1) translate(-1152.4,0)">Cxcl13</text>
<text x="1152.4" y="531.2" font-size="18" text-anchor="start" fill="#000" transform="translate(1152.4,0) scale(1.09,1) translate(-1152.4,0)">Serpina3n</text>
<text x="1152.4" y="549.5" font-size="18" text-anchor="start" fill="#000" transform="translate(1152.4,0) scale(1.09,1) translate(-1152.4,0)">Lcn2</text>
<text x="1152.4" y="567.9" font-size="18" text-anchor="start" fill="#000" transform="translate(1152.4,0) scale(1.09,1) translate(-1152.4,0)">Serpina3m</text>
<text x="1152.4" y="586.2" font-size="18" text-anchor="start" fill="#000" transform="translate(1152.4,0) scale(1.09,1) translate(-1152.4,0)">Saa3</text>
<text x="1152.4" y="604.6" font-size="18" text-anchor="start" fill="#000" transform="translate(1152.4,0) scale(1.09,1) translate(-1152.4,0)">Fpr2</text>
<text x="1152.4" y="623.0" font-size="18" text-anchor="start" fill="#000" transform="translate(1152.4,0) scale(1.09,1) translate(-1152.4,0)">Fgr</text>
<text x="1152.4" y="641.3" font-size="18" text-anchor="start" fill="#000" transform="translate(1152.4,0) scale(1.09,1) translate(-1152.4,0)">Ms4a8a</text>
<text x="1152.4" y="659.7" font-size="18" text-anchor="start" fill="#000" transform="translate(1152.4,0) scale(1.09,1) translate(-1152.4,0)">Ms4a4c</text>
<text x="1152.4" y="678.1" font-size="18" text-anchor="start" fill="#000" transform="translate(1152.4,0) scale(1.09,1) translate(-1152.4,0)">Plac8</text>
<text x="1152.4" y="696.5" font-size="18" text-anchor="start" fill="#000" transform="translate(1152.4,0) scale(1.09,1) translate(-1152.4,0)">Fpr1</text>
<text x="1152.4" y="714.8" font-size="18" text-anchor="start" fill="#000" transform="translate(1152.4,0) scale(1.09,1) translate(-1152.4,0)">Chil1</text>
<text x="1152.4" y="733.2" font-size="18" text-anchor="start" fill="#000" transform="translate(1152.4,0) scale(1.09,1) translate(-1152.4,0)">Serpina3k</text>
<text x="1152.4" y="751.6" font-size="18" text-anchor="start" fill="#000" transform="translate(1152.4,0) scale(1.09,1) translate(-1152.4,0)">Serpina3g</text>
<text x="1152.4" y="770.0" font-size="18" text-anchor="start" fill="#000" transform="translate(1152.4,0) scale(1.09,1) translate(-1152.4,0)">Acod1</text>
<text x="1152.4" y="788.3" font-size="18" text-anchor="start" fill="#000" transform="translate(1152.4,0) scale(1.09,1) translate(-1152.4,0)">Marco</text>
<text x="1152.4" y="806.7" font-size="18" text-anchor="start" fill="#000" transform="translate(1152.4,0) scale(1.09,1) translate(-1152.4,0)">Gm4841</text>
<text x="1152.4" y="825.1" font-size="18" text-anchor="start" fill="#000" transform="translate(1152.4,0) scale(1.09,1) translate(-1152.4,0)">F830016B08Rik</text>
<text x="1152.4" y="843.5" font-size="18" text-anchor="start" fill="#000" transform="translate(1152.4,0) scale(1.09,1) translate(-1152.4,0)">Rhd</text>
<text x="1152.4" y="861.9" font-size="18" text-anchor="start" fill="#000" transform="translate(1152.4,0) scale(1.09,1) translate(-1152.4,0)">Cd300ld5</text>
<text x="1152.4" y="880.3" font-size="18" text-anchor="start" fill="#000" transform="translate(1152.4,0) scale(1.09,1) translate(-1152.4,0)">Cd300ld3</text>
<text x="1152.4" y="898.7" font-size="18" text-anchor="start" fill="#000" transform="translate(1152.4,0) scale(1.09,1) translate(-1152.4,0)">Cenpf</text>
<text x="1152.4" y="917.1" font-size="18" text-anchor="start" fill="#000" transform="translate(1152.4,0) scale(1.09,1) translate(-1152.4,0)">Hs3st5</text>
<text x="1152.4" y="935.5" font-size="18" text-anchor="start" fill="#000" transform="translate(1152.4,0) scale(1.09,1) translate(-1152.4,0)">Pyroxd2</text>
<text x="1152.4" y="953.9" font-size="18" text-anchor="start" fill="#000" transform="translate(1152.4,0) scale(1.09,1) translate(-1152.4,0)">Mfsd4a</text>
<text x="1152.4" y="972.3" font-size="18" text-anchor="start" fill="#000" transform="translate(1152.4,0) scale(1.09,1) translate(-1152.4,0)">Edn3</text>
<text x="1152.4" y="990.7" font-size="18" text-anchor="start" fill="#000" transform="translate(1152.4,0) scale(1.09,1) translate(-1152.4,0)">Cubn</text>
<text x="1152.4" y="1009.1" font-size="18" text-anchor="start" fill="#000" transform="translate(1152.4,0) scale(1.09,1) translate(-1152.4,0)">Cyp1a1</text>
<text x="1152.4" y="1027.5" font-size="18" text-anchor="start" fill="#000" transform="translate(1152.4,0) scale(1.09,1) translate(-1152.4,0)">Cilp</text>
<text x="1152.4" y="1045.9" font-size="18" text-anchor="start" fill="#000" transform="translate(1152.4,0) scale(1.09,1) translate(-1152.4,0)">Apln</text>
<text x="1152.4" y="1064.4" font-size="18" text-anchor="start" fill="#000" transform="translate(1152.4,0) scale(1.09,1) translate(-1152.4,0)">Actc1</text>
<text x="1152.4" y="1082.8" font-size="18" text-anchor="start" fill="#000" transform="translate(1152.4,0) scale(1.09,1) translate(-1152.4,0)">Mdga1</text>
<text x="1152.4" y="1101.2" font-size="18" text-anchor="start" fill="#000" transform="translate(1152.4,0) scale(1.09,1) translate(-1152.4,0)">Mylk4</text>
<text x="1152.4" y="1119.7" font-size="18" text-anchor="start" fill="#000" transform="translate(1152.4,0) scale(1.09,1) translate(-1152.4,0)">Lgi1</text>
<text x="1152.4" y="1138.1" font-size="18" text-anchor="start" fill="#000" transform="translate(1152.4,0) scale(1.09,1) translate(-1152.4,0)">Klhdc8a</text>
<text x="1152.4" y="1156.5" font-size="18" text-anchor="start" fill="#000" transform="translate(1152.4,0) scale(1.09,1) translate(-1152.4,0)">Tuba4a</text>
<text x="1152.4" y="1175.0" font-size="18" text-anchor="start" fill="#000" transform="translate(1152.4,0) scale(1.09,1) translate(-1152.4,0)">Ackr4</text>
<text x="1152.4" y="1193.4" font-size="18" text-anchor="start" fill="#000" transform="translate(1152.4,0) scale(1.09,1) translate(-1152.4,0)">Tfrc</text>
<text x="1152.4" y="1212.0" font-size="18" text-anchor="start" fill="#000" transform="translate(1152.4,0) scale(1.09,1) translate(-1152.4,0)">Cd74</text>
<text x="1152.4" y="1230.7" font-size="18" text-anchor="start" fill="#000" transform="translate(1152.4,0) scale(1.09,1) translate(-1152.4,0)">Col3a1</text>
<text x="1152.4" y="1249.5" font-size="18" text-anchor="start" fill="#000" transform="translate(1152.4,0) scale(1.09,1) translate(-1152.4,0)">Azin2</text>
<text x="1152.4" y="1268.2" font-size="18" text-anchor="start" fill="#000" transform="translate(1152.4,0) scale(1.09,1) translate(-1152.4,0)">Sez6l2</text>
<text x="1152.4" y="1287.0" font-size="18" text-anchor="start" fill="#000" transform="translate(1152.4,0) scale(1.09,1) translate(-1152.4,0)">Nmrk2</text>
<text x="1152.4" y="1305.7" font-size="18" text-anchor="start" fill="#000" transform="translate(1152.4,0) scale(1.09,1) translate(-1152.4,0)">Col15a1</text>
<text x="1152.4" y="1324.5" font-size="18" text-anchor="start" fill="#000" transform="translate(1152.4,0) scale(1.09,1) translate(-1152.4,0)">Casq1</text>
<text x="1152.4" y="1343.2" font-size="18" text-anchor="start" fill="#000" transform="translate(1152.4,0) scale(1.09,1) translate(-1152.4,0)">Arhgef19</text>
<text x="1152.4" y="1362.0" font-size="18" text-anchor="start" fill="#000" transform="translate(1152.4,0) scale(1.09,1) translate(-1152.4,0)">Plekhh1</text>
<text x="1152.4" y="1380.7" font-size="18" text-anchor="start" fill="#000" transform="translate(1152.4,0) scale(1.09,1) translate(-1152.4,0)">Rtn4r</text>
<text transform="translate(869.6,717.4) rotate(-90)" x="0" y="0" font-size="25.5" text-anchor="middle" fill="#000" textLength="71.6" lengthAdjust="spacingAndGlyphs">Genes</text>
<path d="M941.2,64.6H936.1V82.9H941.2M941.2,101.2H939.5V119.5H941.2M939.5,110.3H933.5V137.8H941.2M941.2,156.1H931.0V174.4H941.2M933.5,124.1H926.3V165.2H931.0M936.1,73.7H921.5V144.7H926.3M941.2,211.0H931.5V229.3H941.2M941.2,247.6H935.7V265.9H941.2M931.5,220.2H926.3V256.8H935.7M941.2,192.7H924.2V238.5H926.3M921.5,109.2H912.4V215.6H924.2M941.2,284.3H932.7V302.8H941.2M941.2,321.3H938.4V339.8H941.2M941.2,358.3H936.3V376.7H941.2M938.4,330.5H930.8V367.5H936.3M932.7,293.6H926.2V349.0H930.8M926.2,321.3H922.7V395.2H941.2M941.2,413.7H932.0V432.2H941.2M932.0,422.9H931.3V450.7H941.2M922.7,358.3H918.2V436.8H931.3M941.2,487.4H938.3V505.8H941.2M941.2,469.1H936.4V496.6H938.3M941.2,542.5H939.6V560.9H941.2M941.2,524.2H939.2V551.7H939.6M939.2,537.9H938.6V579.2H941.2M941.2,597.6H938.8V616.0H941.2M938.6,558.6H937.4V606.8H938.8M937.4,582.7H936.4V634.3H941.2M936.4,482.9H933.1V608.5H936.4M941.2,671.1H937.8V689.5H941.2M941.2,652.7H935.5V680.3H937.8M941.2,726.2H938.7V744.6H941.2M941.2,707.8H936.5V735.4H938.7M941.2,763.0H936.5V781.3H941.2M936.5,721.6H933.3V772.2H936.5M935.5,666.5H930.7V746.9H933.3M941.2,799.7H929.0V818.1H941.2M930.7,706.7H921.5V808.9H929.0M933.1,545.7H908.6V757.8H921.5M918.2,397.5H901.1V651.7H908.6M912.4,162.4H900.5V524.6H901.1M941.2,854.9H939.7V873.3H941.2M941.2,891.7H936.5V910.1H941.2M939.7,864.1H934.4V900.9H936.5M941.2,836.5H926.9V882.5H934.4M941.2,928.5H931.8V946.9H941.2M941.2,965.3H932.5V983.7H941.2M932.5,974.5H931.5V1002.1H941.2M931.8,937.7H929.7V988.3H931.5M926.9,859.5H923.6V963.0H929.7M941.2,1020.5H934.0V1038.9H941.2M941.2,1057.4H939.0V1075.8H941.2M939.0,1066.6H937.6V1094.2H941.2M937.6,1080.4H934.0V1112.7H941.2M941.2,1131.1H937.2V1149.5H941.2M937.2,1140.3H934.0V1168.0H941.2M934.0,1154.1H931.9V1186.4H941.2M934.0,1096.5H928.4V1170.3H931.9M934.0,1029.7H924.1V1133.4H928.4M923.6,911.2H906.5V1081.6H924.1M941.2,1223.7H932.5V1242.5H941.2M941.2,1280.0H935.7V1298.7H941.2M941.2,1261.2H932.5V1289.3H935.7M932.5,1233.1H927.6V1275.3H932.5M941.2,1205.0H925.0V1254.2H927.6M925.0,1229.6H922.9V1317.5H941.2M941.2,1355.0H935.0V1373.7H941.2M941.2,1336.2H932.5V1364.3H935.0M922.9,1273.5H919.5V1350.3H932.5M906.5,996.4H897.8V1311.9H919.5M900.5,343.5H885.4V1154.2H897.8" fill="none" stroke="#1e1e1e" stroke-width="1.25"/>
<text x="1309.9" y="561.2" font-size="18.5" text-anchor="start" fill="#000" font-weight="bold" textLength="56.9" lengthAdjust="spacingAndGlyphs" >Group</text>
<rect x="1309.90" y="573.30" width="21.10" height="20.40" fill="#1f78b4" />
<text x="1337.0" y="589.7" font-size="18" text-anchor="start" fill="#111" transform="translate(1337,0) scale(1.07,1) translate(-1337,0)">Both_down</text>
<rect x="1309.90" y="595.15" width="21.10" height="20.40" fill="#e31a1c" />
<text x="1337.0" y="611.5" font-size="18" text-anchor="start" fill="#111" transform="translate(1337,0) scale(1.07,1) translate(-1337,0)">Both_up</text>
<rect x="1309.90" y="617.00" width="21.10" height="20.40" fill="#cab2d6" />
<text x="1337.0" y="633.4" font-size="18" text-anchor="start" fill="#111" transform="translate(1337,0) scale(1.07,1) translate(-1337,0)">MMP</text>
<rect x="1309.90" y="638.85" width="21.10" height="20.40" fill="#b2df8a" />
<text x="1337.0" y="655.2" font-size="18" text-anchor="start" fill="#111" transform="translate(1337,0) scale(1.07,1) translate(-1337,0)">sham_WT_CLP_down</text>
<rect x="1309.90" y="660.70" width="21.10" height="20.40" fill="#ff7f00" />
<text x="1337.0" y="677.1" font-size="18" text-anchor="start" fill="#111" transform="translate(1337,0) scale(1.07,1) translate(-1337,0)">sham_WT_CLP_up</text>
<rect x="1309.90" y="682.55" width="21.10" height="20.40" fill="#a6cee3" />
<text x="1337.0" y="698.9" font-size="18" text-anchor="start" fill="#111" transform="translate(1337,0) scale(1.07,1) translate(-1337,0)">sham_WT_LPS_down</text>
<rect x="1309.90" y="704.40" width="21.10" height="20.40" fill="#fb9a99" />
<text x="1337.0" y="720.8" font-size="18" text-anchor="start" fill="#111" transform="translate(1337,0) scale(1.07,1) translate(-1337,0)">sham_WT_LPS_up</text>
<text x="1309.9" y="760.3" font-size="18.5" text-anchor="start" fill="#000" font-weight="bold" textLength="74.1" lengthAdjust="spacingAndGlyphs" >Z−score</text>
<linearGradient id="zg" x1="0" y1="0" x2="0" y2="1"><stop offset="0.000" stop-color="#e61e24"/><stop offset="0.025" stop-color="#e82e2b"/><stop offset="0.050" stop-color="#e93d32"/><stop offset="0.075" stop-color="#eb4d39"/><stop offset="0.100" stop-color="#ed5a40"/><stop offset="0.125" stop-color="#ee6349"/><stop offset="0.150" stop-color="#ef6d52"/><stop offset="0.175" stop-color="#f0765a"/><stop offset="0.200" stop-color="#f18065"/><stop offset="0.225" stop-color="#f28b70"/><stop offset="0.250" stop-color="#f4957c"/><stop offset="0.275" stop-color="#f5a087"/><stop offset="0.300" stop-color="#f6a992"/><stop offset="0.325" stop-color="#f6b29e"/><stop offset="0.350" stop-color="#f7baa9"/><stop offset="0.375" stop-color="#f8c3b4"/><stop offset="0.400" stop-color="#f8cdc0"/><stop offset="0.425" stop-color="#f9d6cd"/><stop offset="0.450" stop-color="#f8e0d9"/><stop offset="0.475" stop-color="#f4e8e4"/><stop offset="0.500" stop-color="#efebec"/><stop offset="0.525" stop-color="#e9e5ed"/><stop offset="0.550" stop-color="#e2daea"/><stop offset="0.575" stop-color="#dcd0e8"/><stop offset="0.600" stop-color="#d2c4e2"/><stop offset="0.625" stop-color="#c8b8dd"/><stop offset="0.650" stop-color="#beadd7"/><stop offset="0.675" stop-color="#b4a2d2"/><stop offset="0.700" stop-color="#aa97cd"/><stop offset="0.725" stop-color="#a08cc8"/><stop offset="0.750" stop-color="#9682c3"/><stop offset="0.775" stop-color="#8c78be"/><stop offset="0.800" stop-color="#8471b9"/><stop offset="0.825" stop-color="#7b6bb4"/><stop offset="0.850" stop-color="#7364af"/><stop offset="0.875" stop-color="#685dac"/><stop offset="0.900" stop-color="#5c56aa"/><stop offset="0.925" stop-color="#5255a9"/><stop offset="0.950" stop-color="#4854a8"/><stop offset="0.975" stop-color="#4055a7"/><stop offset="1.000" stop-color="#3756a6"/></linearGradient>
<rect x="1308.80" y="771.30" width="23.60" height="116.50" fill="url(#zg)" />
<line x1="1308.80" y1="775.70" x2="1313.50" y2="775.70" stroke="#fff" stroke-width="1.2" />
<line x1="1327.70" y1="775.70" x2="1332.40" y2="775.70" stroke="#fff" stroke-width="1.2" />
<text x="1337.0" y="782.3" font-size="18.5" text-anchor="start" fill="#111" transform="translate(1337,0) scale(1.1,1) translate(-1337,0)">2</text>
<line x1="1308.80" y1="802.70" x2="1313.50" y2="802.70" stroke="#fff" stroke-width="1.2" />
<line x1="1327.70" y1="802.70" x2="1332.40" y2="802.70" stroke="#fff" stroke-width="1.2" />
<text x="1337.0" y="809.3" font-size="18.5" text-anchor="start" fill="#111" transform="translate(1337,0) scale(1.1,1) translate(-1337,0)">1</text>
<line x1="1308.80" y1="829.20" x2="1313.50" y2="829.20" stroke="#fff" stroke-width="1.2" />
<line x1="1327.70" y1="829.20" x2="1332.40" y2="829.20" stroke="#fff" stroke-width="1.2" />
<text x="1337.0" y="835.8" font-size="18.5" text-anchor="start" fill="#111" transform="translate(1337,0) scale(1.1,1) translate(-1337,0)">0</text>
<line x1="1308.80" y1="856.20" x2="1313.50" y2="856.20" stroke="#fff" stroke-width="1.2" />
<line x1="1327.70" y1="856.20" x2="1332.40" y2="856.20" stroke="#fff" stroke-width="1.2" />
<text x="1337.0" y="862.8" font-size="18.5" text-anchor="start" fill="#111" transform="translate(1337,0) scale(1.1,1) translate(-1337,0)">−1</text>
<line x1="1308.80" y1="883.90" x2="1313.50" y2="883.90" stroke="#fff" stroke-width="1.2" />
<line x1="1327.70" y1="883.90" x2="1332.40" y2="883.90" stroke="#fff" stroke-width="1.2" />
<text x="1337.0" y="890.5" font-size="18.5" text-anchor="start" fill="#111" transform="translate(1337,0) scale(1.1,1) translate(-1337,0)">−2</text></svg>
</body></html>
